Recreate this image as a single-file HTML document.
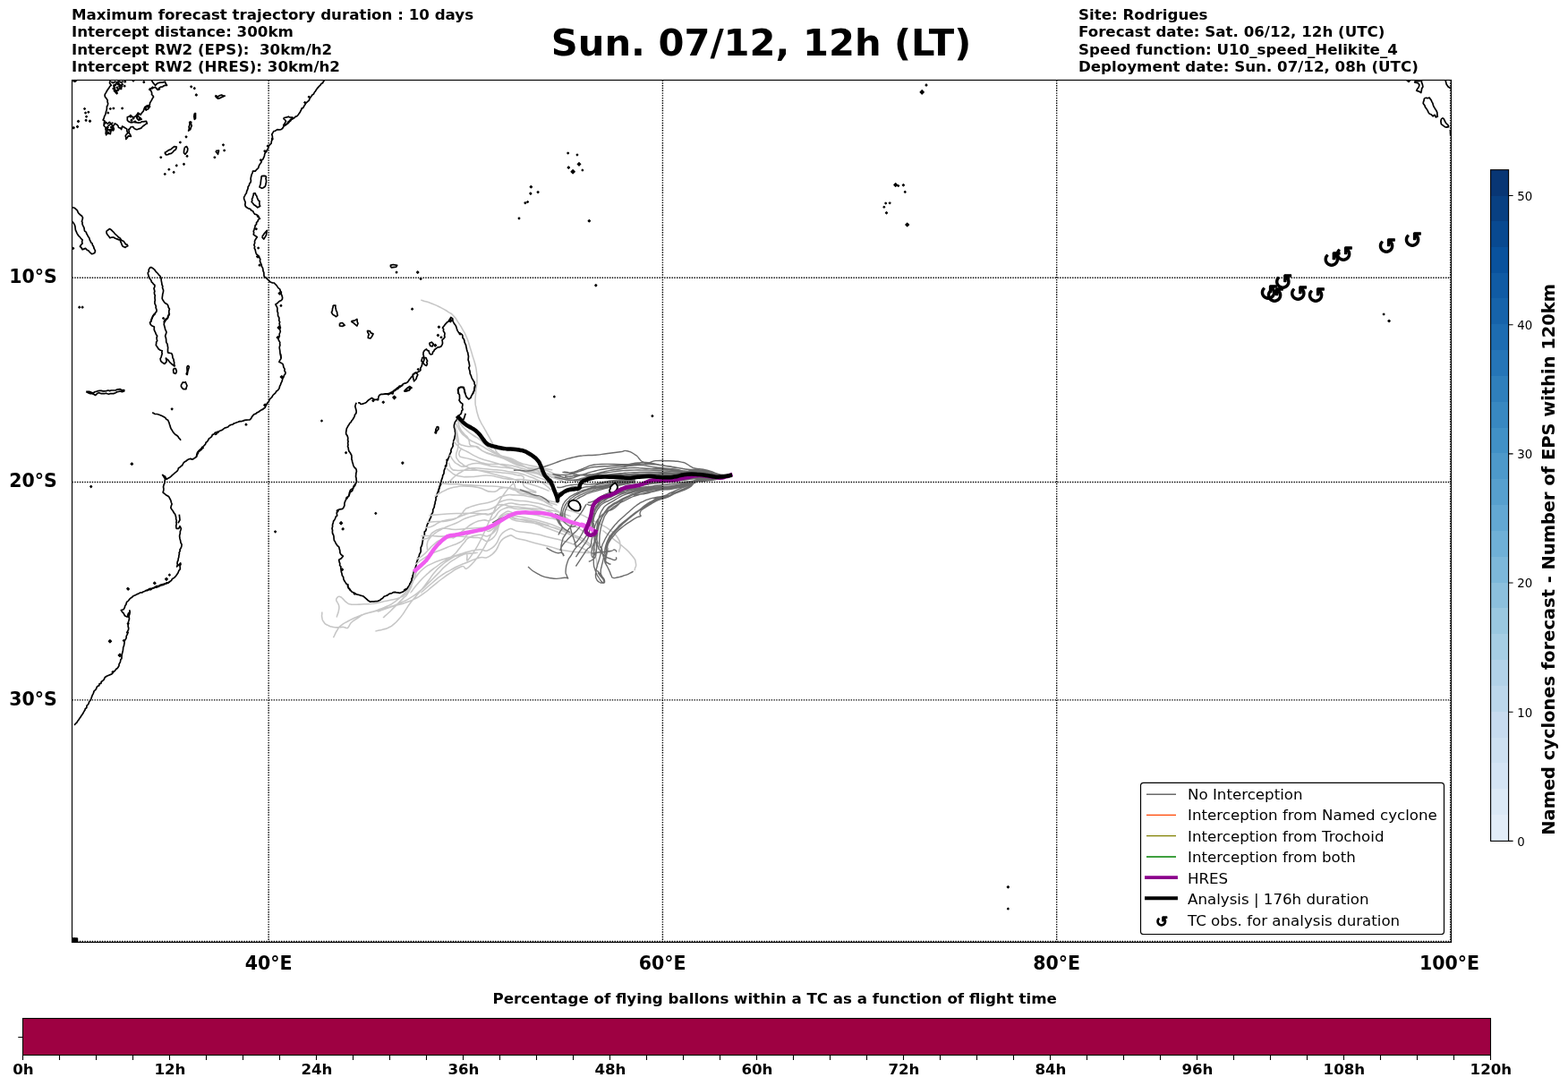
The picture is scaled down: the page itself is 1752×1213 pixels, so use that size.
<!DOCTYPE html>
<html lang="en"><head><meta charset="utf-8"><title>Sun. 07/12, 12h (LT)</title>
<style>html,body{margin:0;padding:0;background:#fff;}body{width:1752px;height:1213px;overflow:hidden;}svg{display:block;font-family:"DejaVu Sans","Liberation Sans",sans-serif;}.b{font-weight:bold;}.h{font-size:16.667px;font-weight:bold;white-space:pre;}.lg{font-size:16.667px;}.ll{font-size:20.5px;font-weight:bold;}.ct{font-size:13.4px;}.grid{stroke:#000;stroke-width:1.39;stroke-dasharray:1.39 1.39;fill:none;}.coast{stroke:#000;stroke-width:1.7;fill:none;stroke-linejoin:round;stroke-linecap:butt;}.lgt{stroke:#c6c6c6;stroke-width:1.55;fill:none;stroke-linejoin:round;}.tcm{fill:#000;stroke:#000;stroke-width:1.39;stroke-linejoin:round;}.tc{font-weight:bold;fill:#000;stroke:#000;stroke-width:1.2;stroke-linejoin:round;}.drk{stroke:#6c6c6c;stroke-width:1.39;fill:none;stroke-linejoin:round;}</style></head><body>
<svg width="1752" height="1213" viewBox="0 0 1752 1213">
<rect x="0" y="0" width="1752" height="1213" fill="#fff"/>
<text class="h" x="80" y="22.00" xml:space="preserve">Maximum forecast trajectory duration : 10 days</text>
<text class="h" x="80" y="41.40" xml:space="preserve">Intercept distance: 300km</text>
<text class="h" x="80" y="60.80" xml:space="preserve">Intercept RW2 (EPS):  30km/h2</text>
<text class="h" x="80" y="80.20" xml:space="preserve">Intercept RW2 (HRES): 30km/h2</text>
<text class="h" x="1205" y="22.00" xml:space="preserve">Site: Rodrigues</text>
<text class="h" x="1205" y="41.40" xml:space="preserve">Forecast date: Sat. 06/12, 12h (UTC)</text>
<text class="h" x="1205" y="60.80" xml:space="preserve">Speed function: U10_speed_Helikite_4</text>
<text class="h" x="1205" y="80.20" xml:space="preserve">Deployment date: Sun. 07/12, 08h (UTC)</text>
<text class="b" x="850.5" y="62.3" font-size="41.667" text-anchor="middle">Sun. 07/12, 12h (LT)</text>
<g id="map">
<clipPath id="mc"><rect x="80.5" y="89.5" width="1541.0" height="963.0"/></clipPath>
<g clip-path="url(#mc)">
<path class="coast" d="M123.3 89.6L122.5 92.7L124.3 95.3L122.8 96.4L121.7 98.4L120.6 99.7L119.2 102.0L118.5 103.4L117.3 105.2L117.1 106.8L117.4 108.1L118.7 109.7L120.2 111.9L120.0 113.4L120.7 115.8L120.2 117.9L119.4 118.9L119.4 121.0L119.1 123.2L118.6 124.3L118.2 126.1L117.9 127.7L116.6 130.2L116.2 131.9L115.1 134.1L117.1 135.3L116.4 136.6L116.2 139.1L116.1 140.5L118.2 142.5L117.9 144.3L118.5 145.7L118.5 147.0L118.1 148.8L118.7 150.8L119.9 149.1L120.7 147.7L121.8 148.8L123.3 149.7L123.7 147.5L124.3 145.6L126.2 145.1L127.4 144.1L126.6 142.4L126.4 140.5L127.4 139.6L128.4 137.9L131.0 139.5L132.0 140.8L132.5 142.5L134.6 143.1L135.6 144.6L136.0 143.1L136.6 141.0L139.2 142.5L141.8 144.1L141.9 146.4L142.8 148.7L141.0 150.4L140.2 151.8L140.8 153.7L140.8 155.4L142.5 153.4L143.3 151.8L146.4 152.3L145.6 150.6L144.3 148.7L144.2 146.6L143.8 144.6L145.2 143.8L145.9 142.0L148.5 141.5L150.0 143.6L151.5 144.3L153.1 144.6L154.1 144.3L156.2 143.6L157.7 143.1L159.3 141.3L160.3 140.5L161.5 139.8L162.5 138.7L164.4 137.9L163.4 135.3L160.3 135.9L158.4 135.9L157.2 136.9L154.7 137.2L153.1 136.9L150.6 136.3L149.0 136.4L146.8 136.8L144.9 136.4L143.1 135.3L142.3 134.3L142.3 132.9L142.3 130.7L144.4 130.1L145.9 128.7L147.2 129.9L149.0 131.2L150.4 130.6L152.1 129.2L153.6 127.3L154.1 126.1L155.3 126.8L157.2 128.2L157.9 126.8L159.3 125.1L160.3 124.0L160.8 121.9L162.3 119.9L164.2 119.0L166.4 117.9L167.5 116.5L167.5 114.8L168.5 113.4L169.5 111.7L170.7 109.4L171.6 108.1L171.0 107.1L169.5 105.5L169.7 104.1L169.0 102.0L167.5 99.4L168.9 98.8L170.5 98.4L171.7 98.0L173.6 97.3L174.4 98.4L176.2 100.4L177.7 98.4L179.5 97.2L181.8 96.8L183.2 95.8L184.4 95.4L186.5 95.3L185.0 93.1L184.4 91.2L181.6 92.1L179.8 92.2L177.9 92.3L175.7 93.2L173.6 95.3L171.6 93.2L170.3 91.3L169.5 89.6"/>
<path class="coast" d="M126.4 95.3L127.2 96.4L128.4 98.4L128.3 100.4L127.4 101.4L128.9 103.0L130.5 104.5L130.5 102.0L131.5 100.4L132.9 99.1L134.6 98.4L136.6 96.3L135.5 95.2L133.6 94.8L131.5 94.5L130.5 93.2L128.4 94.8L126.4 95.3"/>
<path class="coast" d="M119.2 142.5L121.2 140.5L122.8 139.1L124.3 138.4L125.4 140.0L126.4 142.5L124.9 144.1L123.3 144.6L120.2 145.1L119.2 142.5"/>
<path class="coast" d="M161.3 119.9L164.4 117.9L167.5 118.9L165.4 122.0L162.3 122.5L161.3 119.9"/>
<path class="coast" d="M153.1 129.2L156.2 131.2L158.2 133.3L155.1 134.3L153.1 132.3L153.1 129.2"/>
<path class="coast" d="M183.9 170.3L185.8 169.7L187.0 168.7L188.8 167.6L191.1 166.7L192.5 165.4L194.7 163.6L197.3 164.1L196.8 166.0L196.2 167.2L194.5 168.2L193.2 169.8L191.4 171.3L189.0 171.8L187.6 172.7L185.4 172.8L183.9 170.3"/>
<path class="coast" d="M206.5 164.6L208.6 163.6L209.8 166.2L209.5 168.5L208.6 170.3L207.0 172.3L205.5 170.8L205.5 168.8L206.0 166.2L206.5 164.6"/>
<path class="coast" d="M211.6 135.9L213.7 136.4L213.4 138.2L214.2 140.5L213.2 142.7L212.7 144.6L210.6 146.1L211.4 143.8L211.1 141.5L211.8 140.2L212.0 137.6L211.6 135.9"/>
<path class="coast" d="M217.3 126.6L218.5 126.6L218.5 132.3L217.3 133.3L216.8 130.2L217.3 126.6"/>
<path class="coast" d="M240.4 106.6L241.6 107.0L243.5 108.1L245.2 106.8L247.6 106.1L249.5 107.0L251.2 107.1L249.8 107.8L247.6 108.6L245.7 109.7L243.5 110.2L241.5 108.5L240.4 106.6"/>
<path class="coast" d="M240.9 168.7L244.5 168.2L243.5 172.3L242.0 170.3L240.9 168.7"/>
<path class="coast" d="M81.2 90.1L83.7 91.2L85.8 89.6"/>
<path class="coast" d="M80.5 231.5L83.2 232.2L84.8 233.6L85.8 234.5L86.6 235.6L87.2 237.3L88.3 238.7L89.4 239.7L91.5 241.3L92.5 243.2L91.9 245.7L91.4 247.3L92.1 248.5L91.9 250.1L92.8 252.1L93.9 254.4L94.2 256.2L94.6 258.1L96.4 259.4L96.6 260.8L97.6 262.3L98.1 263.5L99.8 265.9L100.2 267.9L101.0 269.2L101.8 271.1L103.1 271.9L103.3 273.6L104.5 275.3L104.9 277.0L105.6 278.4L106.5 280.1L105.8 282.5L103.7 283.5L102.4 283.6L101.1 282.4L100.2 281.7L99.0 280.1L97.2 279.2L95.5 277.4L93.8 278.1L92.1 278.8L90.8 276.5L89.4 275.3L90.7 273.3L92.1 271.9L91.6 270.2L92.1 267.8L90.4 266.4L89.6 265.1L88.0 263.7L86.9 262.1L86.2 260.8L85.3 258.9L84.4 256.9L84.1 254.5L83.9 252.7L83.2 250.7L81.8 248.6L80.5 247.3"/>
<path class="coast" d="M118.8 258.2L120.6 257.1L122.3 255.5L124.4 256.8L125.7 258.2L127.2 259.6L128.4 261.2L129.8 262.3L131.1 263.5L132.5 265.1L133.9 265.8L135.2 267.5L136.0 268.5L138.2 269.6L139.4 271.2L140.6 272.9L142.0 273.1L142.8 274.7L141.0 275.5L140.1 276.4L137.3 275.3L136.0 273.0L135.5 271.2L134.6 269.7L134.6 267.8L133.2 267.9L131.2 267.1L128.7 266.3L127.1 265.1L125.2 265.0L122.9 265.8L122.0 264.6L120.2 262.3L119.2 260.8L118.8 258.2"/>
<path class="coast" d="M168.2 298.4L167.0 299.8L166.1 301.4L166.4 303.3L165.3 304.5L165.4 306.2L166.0 307.6L166.2 309.2L167.1 311.0L168.5 312.5L169.5 315.1L170.7 316.1L171.3 317.2L172.9 318.5L172.9 320.1L172.0 322.2L172.3 323.3L172.9 325.5L172.4 326.5L172.6 328.7L173.4 330.1L173.0 331.4L173.1 334.0L173.4 335.0L172.9 337.0L173.0 339.3L173.9 340.9L174.3 342.5L174.1 343.7L175.0 345.9L175.0 347.7L173.5 349.6L173.1 350.9L171.5 352.4L170.9 353.4L169.7 355.5L169.5 356.5L168.9 358.8L168.2 360.0"/>
<path class="coast" d="M168.2 298.4L169.6 298.9L171.6 300.3L172.8 301.3L173.5 302.5L174.7 303.9L176.4 305.5L177.3 306.9L178.9 308.4L179.8 310.3L180.1 312.0L180.3 313.9L180.8 316.4L180.9 317.6L181.8 319.9L181.5 321.5L182.3 323.3L182.6 324.6L182.3 326.6L181.7 328.8L181.6 330.1L181.3 331.9L181.2 333.6L182.4 335.8L183.2 337.0L184.4 338.5L186.2 339.4L187.3 340.4L187.9 341.8L188.2 343.2L189.4 345.2L188.8 347.3L188.8 348.5L189.0 350.7L187.7 352.9L187.8 354.5L186.6 356.2L185.0 357.8L183.9 360.0"/>
<path class="coast" d="M172.9 350.0L171.8 351.6L170.7 353.1L170.2 354.8L169.0 357.1L168.9 358.5L167.5 360.3L168.2 362.5L169.5 363.7L172.3 365.1L172.3 366.5L172.2 368.1L172.9 369.9L173.8 371.7L174.4 373.5L175.7 375.3L175.1 376.9L175.2 378.9L175.7 380.8L174.7 381.9L174.6 383.7L174.3 385.6L175.3 387.0L176.4 388.5L177.1 389.7L179.3 391.2L181.2 391.8L180.8 393.4L181.2 395.0L180.5 397.3L180.0 399.1L179.1 400.7L179.6 403.1L181.2 404.8L183.9 406.4L186.0 404.1L186.0 402.2L185.3 400.0L186.9 401.4L188.0 402.1L188.8 403.5L190.3 405.2L191.4 406.2L193.1 407.5L194.3 408.6L195.5 409.2"/>
<path class="coast" d="M189.4 350.0L188.9 352.0L187.7 353.1L187.3 355.5L185.2 356.4L183.9 357.5L183.2 359.5L183.5 360.9L183.2 362.3L183.8 364.4L184.1 365.4L184.6 367.8L185.6 369.8L186.0 371.2L185.3 373.3L184.6 375.3L185.1 376.7L185.6 378.7L185.7 380.8L185.8 382.4L187.0 384.2L187.3 386.3L187.7 388.7L187.5 389.9L187.5 392.2L187.6 393.8L189.8 394.3L191.4 394.5L192.3 395.8L192.8 397.9L192.9 399.5L194.0 401.4L194.2 403.4L194.7 404.8L194.6 407.0L195.5 409.2"/>
<path class="coast" d="M194.2 411.6L196.2 411.6L197.3 414.4L197.0 416.1L196.2 417.4L193.9 416.4L193.6 413.3L194.2 411.6"/>
<path class="coast" d="M209.9 408.2L211.3 409.6L211.0 411.0L210.4 412.7L209.9 414.4L209.6 416.0L209.2 418.5L208.2 417.8L208.9 415.7L209.2 414.6L209.0 412.3L208.9 410.2L209.9 408.2"/>
<path class="coast" d="M203.8 426.7L205.8 427.2L207.2 426.7L208.0 428.5L209.0 430.8L208.1 433.2L207.9 434.7L204.9 434.7L203.3 433.2L202.4 431.5L202.5 429.9L203.8 427.9L203.8 426.7"/>
<path class="coast" d="M96.2 437.4L98.3 437.4L99.7 437.4L101.7 438.1L102.6 438.7L104.5 438.8L106.3 437.5L107.6 437.3L109.9 436.6L111.7 436.4L113.1 436.4L115.1 436.9L116.5 436.9L118.8 436.6L120.9 436.0L122.6 436.6L124.2 436.0L125.3 436.0L127.1 436.0L129.4 435.8L130.6 435.2L132.5 434.9L134.3 434.7L136.2 435.8L138.7 435.6L138.7 437.0L136.4 437.6L134.3 437.0L132.5 437.4L130.8 437.7L129.1 438.8L126.9 439.6L125.4 439.7L122.9 439.7L121.4 440.2L120.1 439.8L118.3 439.2L116.6 439.7L114.7 439.7L113.2 439.7L110.8 438.8L109.2 439.0L108.3 439.9L106.5 441.5L104.8 440.4L103.1 439.7L100.8 439.6L99.0 439.0L96.2 437.4"/>
<path class="coast" d="M170.2 460.7L172.9 462.3L175.5 462.5L177.2 463.0L179.1 463.7L181.0 464.5L182.4 465.2L184.6 466.4L185.8 468.3L187.6 469.2L188.2 470.5L189.2 472.9L189.4 474.0L190.0 475.4L190.4 477.2L191.4 479.5L192.2 480.4L193.0 481.9L194.2 483.6L196.0 485.4L197.6 486.3L199.0 487.6L199.8 489.1L200.9 490.2L202.1 491.8"/>
<path class="coast" d="M227.7 500.0L225.7 501.0L225.2 502.0L223.1 503.7L221.6 504.8L221.3 506.3L220.0 508.2L219.5 510.3L217.7 511.4L216.1 512.6L214.8 513.1L212.9 512.4L210.6 513.0L208.7 514.2L208.3 514.8L206.5 515.8L205.5 516.4L204.2 518.7L203.6 519.8L202.6 520.4L201.0 521.9L199.5 522.8L198.9 524.6L198.2 525.9L196.8 527.1L195.5 528.1L194.1 529.3L192.3 530.8L191.1 532.1L190.1 532.9L188.3 533.9L186.2 535.3L185.0 533.5L184.6 532.2L183.2 531.5L181.6 530.4L182.2 531.4L183.6 533.5L184.6 534.9L184.2 536.2L184.2 537.6L183.9 539.7L183.0 541.7L182.5 543.8L182.9 546.0L182.7 547.9L182.1 550.0L183.4 551.1L185.3 552.7L187.5 554.0L188.7 554.8L189.5 556.3L190.8 558.9L191.4 561.2L192.1 563.0L191.4 564.8L190.8 567.1L191.9 569.0L192.3 569.4L193.5 571.2L194.2 572.7L195.5 574.1L196.2 576.0L196.7 578.2L196.6 579.5L197.3 581.5L196.9 583.6L197.3 585.0L196.7 587.3L196.9 589.2L197.2 590.4L199.7 590.4L201.0 587.7L202.4 590.4L202.0 591.8L201.3 593.7L201.3 596.0L200.8 597.3L200.6 598.9L200.9 601.2L201.1 601.9L201.7 604.1L201.9 606.0L203.1 608.2L202.8 610.5L202.0 612.4L201.0 613.7L201.2 615.2L200.1 617.6L200.5 618.3L199.9 620.5L199.8 622.2L199.2 624.0L199.0 626.0L198.3 627.2L198.0 629.3L198.4 630.8L197.6 632.9L199.5 631.2L200.2 630.5L201.7 628.8L202.0 630.4L201.0 632.2L201.3 634.4L201.3 635.6L199.8 637.5L199.0 639.7L198.3 640.8L196.6 643.3L195.5 644.5L194.5 645.4L192.3 646.8L191.4 648.6L190.2 649.2L188.3 650.8L186.1 650.9L184.6 652.1L183.4 652.9L181.0 653.7L179.5 653.9L177.5 655.1L176.4 655.5L175.1 656.1L173.4 656.0L170.9 657.0L169.5 657.5L168.5 658.6L166.3 658.5L164.8 659.4L163.4 660.0"/>
<path class="coast" d="M200.3 574.7L201.0 580.8L199.0 584.2"/>
<path class="coast" d="M190.1 650.0L188.9 650.2L187.1 651.4L185.5 651.9L183.6 652.0L181.8 652.7L180.1 653.1L179.0 653.4L176.8 654.7L175.3 654.5L173.5 655.5L172.3 656.6L170.9 656.6L169.7 657.7L167.5 657.4L165.7 658.5L164.9 659.0L162.8 659.6L161.6 660.5L159.9 661.0L158.6 662.0L156.8 661.9L155.4 662.8L153.4 663.6L151.7 664.4L150.6 664.9L148.7 665.8L147.2 667.4L146.2 667.8L144.9 669.0L143.4 671.1L142.1 671.9L141.3 673.2L140.8 675.3L139.7 676.7L139.4 678.3L138.0 680.8L135.3 681.5L136.6 683.6L138.0 684.9L139.4 687.7L141.5 688.8L142.8 689.0L142.8 687.0L143.4 685.1L144.9 683.7L144.9 681.8L145.2 683.6L144.9 685.7L144.1 688.0L144.2 689.7L144.5 691.0L143.9 693.3L143.4 694.7L143.5 696.6L143.1 698.0L143.2 700.1L143.7 701.4L143.5 703.4L142.5 705.1L142.8 706.7L142.1 708.9L141.2 710.4L141.1 712.6L140.1 714.4L139.1 715.8L139.0 718.1L138.7 719.9L138.5 721.1L137.6 723.5L137.6 724.8L137.3 726.7L136.8 728.9L136.4 730.2L136.1 731.8L136.0 733.6L135.9 735.7L134.9 736.4L134.6 738.4L134.3 739.6L133.0 741.9L133.0 743.3L132.5 744.5L131.1 746.5L129.8 747.3L128.4 749.3L126.3 750.7L125.4 752.5L123.6 753.4L121.6 754.2L120.3 754.8L118.8 755.5L117.1 756.8L116.1 759.1L114.7 760.3L113.2 761.5L112.9 763.3L111.1 763.6L110.8 765.7L109.2 766.4L108.2 767.3L107.7 769.1L106.6 770.7L105.1 771.9L104.8 773.1L104.1 774.8L103.1 776.7L102.3 779.1L101.7 780.8L101.2 782.0L99.7 783.8L99.2 785.3L98.3 787.0L97.0 788.2L96.8 790.5L95.2 791.7L94.9 793.2L94.2 794.1L93.3 795.7L92.1 797.7L91.2 799.0L90.1 800.7L89.0 802.3L87.9 803.9L86.9 805.2L86.0 806.8L84.1 808.6L83.2 810.0"/>
<path class="coast" d="M362.6 89.8L361.4 90.9L360.5 92.8L359.0 93.6L357.8 95.3L356.7 96.2L355.2 97.9L354.1 99.3L353.4 100.2L352.3 102.1L351.4 103.0L350.4 105.2L349.1 105.7L347.9 107.5L346.8 109.0L346.2 109.9L345.1 112.3L343.8 113.4L342.1 115.0L341.4 115.8L340.4 117.7L339.9 118.2L338.8 120.4L337.1 121.1L336.6 122.7L336.0 123.7L335.3 125.2L334.4 126.4L333.2 128.2L331.8 129.8L330.1 130.2L329.0 131.6L327.7 132.4L325.8 133.3L324.6 135.1L323.6 135.7L322.2 137.5L320.0 138.7L318.8 139.8L317.1 141.0L316.5 142.0L315.6 143.5L314.0 144.6L312.0 145.0L309.9 144.6L307.4 146.2L305.8 146.6L304.9 148.2L303.7 150.1L304.2 151.4L304.5 153.3L304.1 154.9L303.6 157.0L303.3 158.2L303.0 160.3L301.9 161.2L300.3 163.1L299.9 164.4L299.1 166.8L298.2 167.9L297.6 169.6L296.6 170.4L295.7 172.1L295.5 174.0L294.8 175.7L293.8 177.9L292.5 178.9L292.1 180.9L291.4 182.1L289.8 184.2L289.1 185.9L288.6 187.7L287.2 189.0L286.4 189.7L285.2 191.2L282.5 191.2L282.1 193.0L281.0 195.3L280.8 196.6L280.4 197.9L280.1 200.0L280.4 201.4L280.1 203.6L278.9 204.8L278.4 206.9L277.1 208.8L277.1 210.2L276.5 212.0L275.6 213.8L275.4 215.6L274.0 217.4L273.6 218.6L272.6 220.3L272.6 222.0L273.3 223.8L274.2 226.1L273.8 228.5L274.2 230.2L275.4 231.6L277.7 232.9L279.8 233.5L280.5 234.9L282.5 235.7L283.5 237.6L284.5 239.1L286.9 239.8L288.6 241.2L289.4 242.9L290.7 245.0"/>
<path class="coast" d="M316.7 131.6L318.0 131.5L320.7 130.9L322.2 130.2L323.5 131.0L326.1 131.1L327.7 131.6L326.6 132.7L324.6 133.4L323.6 135.0L322.1 135.9L321.1 138.0L320.1 139.1L318.6 139.8L316.7 139.8L317.9 138.2L318.6 137.0L319.5 135.7L318.9 134.3L317.4 133.1L316.7 131.6"/>
<path class="coast" d="M292.1 196.6L295.0 196.3L296.8 196.6L297.5 197.7L297.0 199.5L297.5 201.4L297.5 203.6L297.1 204.7L296.9 206.4L296.2 208.3L294.2 209.8L292.7 210.3L290.0 209.0L290.6 207.1L291.1 205.4L291.4 202.8L291.6 201.1L292.0 199.1L292.1 196.6"/>
<path class="coast" d="M283.2 215.8L285.2 215.8L285.8 217.7L286.7 218.8L287.3 220.6L287.9 222.1L288.6 223.8L290.0 224.7L289.8 226.0L290.0 228.9L290.7 230.2L287.9 231.8L286.4 230.5L284.7 229.3L283.8 228.8L282.7 227.3L281.1 225.4L281.8 224.1L281.5 222.3L282.5 220.6L282.5 219.4L283.3 217.9L283.2 215.8"/>
<path class="coast" d="M287.3 240.0L287.7 241.8L289.5 243.2L290.0 244.1L288.5 245.5L287.9 247.5L286.6 248.4L286.5 250.6L285.2 251.6L284.9 253.8L284.4 255.1L283.8 257.1L283.2 258.3L283.7 260.0L283.2 261.9L284.3 262.7L285.4 263.5L287.3 264.7L286.1 266.5L285.3 267.7L284.5 269.5L284.7 271.5L283.8 273.6L284.7 275.5L284.2 277.1L285.2 279.0L285.6 280.9L286.0 282.5L286.6 283.8L287.8 284.9L289.3 286.1L290.0 287.9L290.8 289.6L290.4 291.7L291.4 294.1L292.3 296.2L292.2 297.3L293.4 298.9L293.9 301.1L294.0 302.6L294.8 304.4L294.9 306.3L295.0 308.1L295.5 309.2L297.0 310.2L298.9 311.9L300.5 313.3L301.6 314.7L302.8 315.3L304.4 315.9L306.4 316.0L307.8 317.7L308.9 318.6L309.9 320.1L310.9 321.6L312.6 322.9L313.3 324.9L314.3 326.2L314.2 328.3L315.1 330.4L315.6 332.5L315.3 334.5L313.8 335.9L312.3 336.3L311.2 337.3L309.6 338.9L307.8 340.0L309.1 342.2L309.9 344.1L309.9 345.6L309.8 347.9L310.6 349.5L310.5 351.0L310.6 352.7L311.8 354.7L311.9 356.4L311.7 358.1L312.7 359.6L312.1 361.4L312.6 363.3L313.0 365.4L312.6 366.3L312.8 368.2L313.3 370.1L312.8 371.5L312.1 373.2L312.3 375.5L311.2 377.0L311.1 379.2L311.5 380.3L312.8 382.4L312.6 383.8L312.9 385.5L312.3 387.4L312.2 388.6L312.6 390.7L312.8 392.0L313.0 394.7L313.6 396.3L313.8 398.1L314.0 400.0"/>
<path class="coast" d="M292.7 264.7L295.5 260.5L298.2 257.5L297.5 262.6L294.8 267.1L292.7 264.7"/>
<path class="coast" d="M372.2 341.1L374.9 341.1L374.8 343.1L375.3 345.2L375.6 346.8L376.6 348.6L376.8 350.8L377.3 352.3L375.6 353.7L373.8 352.4L372.2 351.6L371.5 350.7L370.4 348.9L371.3 347.1L371.5 344.8L372.2 343.1L372.2 341.1"/>
<path class="coast" d="M379.5 361.2L382.5 360.5L385.2 363.3L382.5 364.4L379.5 364.0L379.5 361.2"/>
<path class="coast" d="M392.3 358.9L394.4 358.4L396.2 358.1L398.9 356.4L399.1 358.2L399.2 359.5L400.0 361.2L398.9 364.0L397.8 363.2L396.2 361.9L395.0 360.6L393.5 359.9L392.3 358.9"/>
<path class="coast" d="M435.9 296.4L439.3 295.5L443.7 296.4L442.7 298.2L437.3 298.9L435.9 296.4"/>
<path class="coast" d="M313.3 395.0L313.6 396.7L313.9 399.1L314.0 400.5L312.6 402.6L311.9 404.3L314.3 405.4L316.0 406.6L316.7 409.0L316.9 410.3L318.1 412.1L317.9 414.3L319.0 415.8L318.8 417.6L317.4 419.3L317.0 421.0L316.0 422.4L315.4 424.4L315.0 426.1L314.0 427.9L313.4 429.9L312.6 431.2L312.3 432.8L311.9 434.0L310.1 436.2L309.0 436.7L307.8 438.8L306.4 440.1L304.9 441.5L304.1 443.2L303.0 444.3L301.8 445.4L300.7 447.3L300.4 448.5L298.9 449.8L297.7 452.0L297.0 453.1L296.2 455.3L294.4 456.4L293.8 457.1L292.0 457.9L290.7 458.7L288.7 460.2L287.1 460.9L285.9 462.1L283.8 462.8L282.6 464.1L281.5 465.5L280.6 467.3L279.0 469.0L277.5 469.0L275.1 469.2L273.3 469.4L271.5 470.1L269.2 470.7L267.8 470.6L266.2 471.3L264.7 471.7L262.9 472.5L261.4 472.9L260.0 474.2L257.8 474.5L255.7 475.8L255.0 476.7L252.5 477.7L251.4 477.8L249.6 479.2L247.7 480.6L247.0 480.7L245.0 481.5L243.8 483.1L242.6 483.3L241.8 484.9L240.0 485.4"/>
<path class="coast" d="M398.2 449.8L397.2 452.3L396.8 453.9L397.4 456.0L397.9 458.0L398.2 459.4L397.9 461.6L396.5 463.2L396.2 464.9L395.2 466.8L394.0 468.7L393.1 469.7L392.1 471.7L390.8 472.7L390.1 474.0L389.1 475.4L388.2 477.2L387.3 478.6L387.0 481.0L386.6 482.7L386.7 484.9L387.9 486.4L388.6 488.2L388.8 490.2L388.5 491.5L389.1 492.8L388.6 495.0L389.0 496.9L388.5 498.5L389.3 500.6L389.3 501.8L390.0 504.2L391.2 505.5L392.1 507.3L392.8 508.5L393.0 510.9L392.9 512.9L393.4 514.2L393.7 516.0L394.4 518.1L394.8 519.7L395.3 521.0L396.4 522.5L397.7 523.5L398.2 525.1L398.4 526.7L397.9 528.3L397.7 530.8L397.5 532.0L398.1 534.4L398.1 535.9L398.6 538.2L397.5 539.8L396.9 541.5L395.2 543.0L394.8 544.3L394.2 545.7L392.2 546.8L391.2 548.1L390.7 549.8L390.6 551.6L389.8 553.6L389.0 555.0"/>
<path class="coast" d="M429.8 440.0L432.3 440.0L433.9 439.7L435.7 439.0L437.5 438.1L439.0 437.1L440.8 435.7L442.3 434.8L444.0 433.2L445.2 432.5L446.4 431.0L448.6 430.9L450.0 429.3L451.4 428.4L453.8 427.9L455.5 426.8L456.6 425.2L457.3 424.0L458.6 422.7L459.4 421.3L460.8 420.5L461.6 418.6L462.5 417.8L463.9 416.5L465.8 416.1L467.5 415.3L469.0 414.3L469.9 413.5L469.8 411.3L470.9 409.4L471.5 407.8L471.9 405.3L473.5 403.2L474.0 401.2L473.5 399.0L473.4 397.4L472.9 396.0L473.1 393.4L474.0 391.9L474.7 391.1L476.5 389.9L477.4 391.4L479.1 391.9L479.7 394.4L481.2 396.0L483.2 395.5L483.5 393.4L484.8 392.1L485.3 390.9L486.9 389.5L487.5 389.1L489.4 387.8L491.4 387.7L493.0 386.8L494.0 384.8L494.5 383.7L494.4 381.9L494.0 379.6L495.5 378.5L497.1 376.5L496.6 375.3L497.0 372.5L496.6 371.4L495.4 369.8L495.6 367.5L494.5 366.2L495.3 365.1L496.2 363.9L497.6 362.1L499.4 360.1L501.2 359.0L501.9 357.6L502.8 356.2L503.8 354.4L505.8 356.0L505.9 358.3L506.8 360.1L507.7 361.8L508.9 363.2L509.8 365.1L510.4 367.3L511.3 369.6L512.5 371.4L514.8 372.7L516.1 373.4L516.9 374.9L517.0 377.4L518.2 378.6L518.9 380.6L519.0 382.1L519.7 383.7L520.7 385.8L520.8 386.9L521.2 388.8L521.7 391.0L522.1 392.5L522.8 394.0L523.1 396.5L523.5 397.8L523.3 400.1L523.1 401.9L523.9 404.3L524.3 406.3L524.7 408.8L523.8 410.8L524.3 412.5L525.0 414.6L525.1 415.6L525.3 417.6L526.4 419.7L526.9 421.5L527.4 422.7L528.1 423.7L529.2 425.8L530.0 426.8L530.1 428.9L531.0 430.4L531.0 432.5L530.0 435.1L529.6 436.9L528.9 438.0L528.4 440.0"/>
<path class="coast" d="M512.0 440.0L511.8 435.1L514.0 432.5L517.6 432.5L519.2 436.1L519.7 440.0"/>
<path class="coast" d="M460.6 418.6L462.1 417.6L464.2 416.1L465.8 417.3L466.8 418.6L465.6 421.0L465.2 422.7L464.3 424.0L462.7 425.8L462.2 424.2L461.6 421.7L461.6 420.2L460.6 418.6"/>
<path class="coast" d="M452.4 436.1L455.5 433.0L459.1 433.5L456.5 436.1L452.4 436.1"/>
<path class="coast" d="M410.3 369.3L413.4 369.8L414.4 371.9L417.0 372.9L416.2 374.6L415.4 376.0L413.9 378.0L411.3 377.5L411.5 375.1L412.3 373.4L411.0 371.6L410.3 369.3"/>
<path class="coast" d="M479.6 383.2L482.2 382.2L484.2 384.2L483.2 386.8L480.7 386.3L479.6 383.2"/>
<path class="coast" d="M471.9 399.1L473.8 399.4L476.0 399.6L476.7 401.4L477.6 403.2L476.8 404.4L477.4 406.5L476.5 408.4L474.6 407.5L473.5 406.3L472.5 404.4L470.9 403.2L471.5 401.0L471.9 399.1"/>
<path class="coast" d="M400.0 450.0L401.7 449.8L402.9 451.3L405.1 451.1L407.6 450.3L409.2 449.5L410.9 447.7L412.3 446.4L414.2 445.3L415.4 444.4L417.4 445.7L418.5 446.4L420.9 446.4L422.6 445.4L423.1 442.8L424.1 441.3L425.6 440.4L427.7 440.3L430.8 439.8L431.9 439.8L433.9 440.8L436.5 439.2L439.0 439.8L439.6 437.2L441.4 436.3L443.2 434.6L444.5 434.3L446.3 432.4L447.3 432.1L448.9 430.9L450.3 430.0"/>
<path class="coast" d="M531.0 430.0L530.2 432.2L530.0 433.5L530.0 435.1L529.4 437.4L528.8 438.4L527.9 440.3L526.8 442.0L525.9 444.4L523.8 445.9L523.0 445.2L521.2 443.4L520.2 440.8L519.7 439.2L518.9 437.0L518.7 435.1L518.2 432.6L515.1 432.3L512.5 433.1L511.5 435.7L512.4 438.2L512.5 439.8L513.4 441.1L513.5 443.4L513.6 445.4L513.0 447.0L514.6 449.5L516.9 451.1L516.8 453.4L516.3 454.7L517.1 457.7L515.9 458.9L515.6 460.8L514.8 462.6L513.5 463.4L512.7 464.5L511.5 466.0L510.8 468.0L509.9 469.6L508.5 471.2L507.9 473.2L507.4 474.8L507.4 477.3L507.9 478.4L508.4 480.3L508.4 481.7L508.9 483.9L508.6 485.7L507.9 488.6L507.8 489.9L506.7 492.5L506.8 493.7L506.0 496.2L506.2 498.2L505.3 499.9L504.4 501.3L503.8 503.4L504.1 504.6L503.3 506.0L502.5 507.6L502.2 509.4L501.2 511.2L500.7 512.7L499.5 514.4L499.1 516.8L498.9 518.8L497.7 521.0L497.6 522.5L496.8 524.1L496.2 525.6L496.1 527.6L495.9 529.1L494.7 531.0L494.5 532.7L493.8 534.9L493.1 536.7L493.0 537.9L492.0 540.0L492.1 541.0L491.4 543.0L491.0 544.5L490.4 546.2L490.1 548.8L489.9 550.0"/>
<path class="coast" d="M520.2 461.8L519.2 464.9L518.2 468.0L517.1 469.0"/>
<path class="coast" d="M488.4 476.2L489.9 477.3L489.9 479.3L488.9 480.3L487.7 481.9L487.3 483.9L486.1 483.4L486.9 481.1L486.8 479.8L487.8 477.8L488.4 476.2"/>
<path class="coast" d="M451.4 437.2L453.4 435.1L454.5 434.1L456.3 432.7L457.5 431.5L460.1 433.1L458.4 433.8L457.5 435.7L455.8 436.5L453.4 437.2L451.4 437.2"/>
<path class="coast" d="M397.7 540.0L396.5 541.3L396.5 542.4L395.2 544.1L394.5 545.8L393.6 548.2L391.7 549.5L390.5 550.3L390.3 552.0L389.5 554.4L387.8 555.2L387.0 557.0L386.3 558.7L385.4 560.5L384.9 562.3L384.9 564.7L384.0 566.7L382.8 568.3L379.8 568.8L377.2 569.8L377.0 571.4L376.2 572.9L376.7 576.0L375.3 577.0L374.6 579.0L373.9 580.5L372.6 582.1L372.3 583.7L371.5 586.2L371.6 588.1L371.0 590.3L371.6 592.5L371.4 593.2L371.5 595.5L372.5 597.5L373.0 599.3L373.1 601.6L373.4 603.7L374.3 604.7L375.1 606.8L376.2 608.3L377.0 609.5L378.7 610.9L379.2 613.0L379.8 615.0L379.9 617.3L380.8 619.1L382.4 620.5L383.4 621.2L382.1 622.7L381.3 623.7L378.7 625.3L379.1 627.6L379.8 629.4L379.6 631.5L380.9 632.8L380.8 634.5L381.1 636.6L381.3 638.6L381.9 640.2L382.3 642.7L383.6 644.5L383.9 646.8L384.5 648.2L385.9 650.4L386.9 652.1L388.5 653.0L388.5 654.6L389.5 657.1L390.8 658.2L391.6 660.0"/>
<path class="coast" d="M493.3 540.0L491.7 542.2L491.2 544.1L490.5 546.2L489.7 548.2L489.1 549.8L488.2 552.3L488.2 554.3L487.0 555.3L487.1 557.5L486.8 559.2L486.2 560.5L486.1 562.6L485.5 563.9L485.2 566.4L484.6 567.7L483.7 569.4L483.8 570.5L483.4 572.8L482.5 573.9L481.7 575.7L481.5 577.7L480.4 579.6L479.6 581.6L479.4 582.5L478.4 584.2L477.4 585.7L476.9 588.1L476.3 589.3L476.2 591.3L475.7 592.8L474.3 594.0L474.3 595.5L474.3 598.0L473.0 599.5L472.7 601.6L472.5 603.5L472.1 605.3L471.7 607.8L471.1 609.9L470.2 611.5L470.2 614.0L470.2 616.0L469.6 617.5L468.6 619.1L468.2 621.6L467.1 623.2L467.0 624.4L466.2 626.4L465.5 628.4L465.2 630.2L464.6 632.9L464.0 634.5L463.5 636.0L462.7 637.9L462.0 639.7L462.1 641.1L461.1 643.2L460.9 644.8L460.0 646.6L460.4 648.2L459.4 649.9L458.1 651.9L457.3 654.0L456.1 655.5L454.8 657.6L452.5 658.3L451.2 659.7"/>
<path class="coast" d="M388.5 652.2L388.8 654.4L389.6 656.8L390.6 658.0L392.1 659.9L393.0 660.9L395.2 662.0L396.2 662.9L398.0 663.6L399.3 664.2L401.4 664.5L402.9 665.1L404.6 665.5L406.0 666.0L407.6 667.3L409.6 669.1L410.7 670.2L412.2 671.3L413.7 672.2L415.2 671.9L417.8 671.9L420.3 671.5L421.9 671.7L423.3 670.8L424.4 670.5L426.0 669.1L427.5 668.2L429.1 666.2L431.2 665.5L433.3 664.6L434.1 663.7L436.3 662.9L437.9 662.7L439.3 661.6L441.4 661.4L443.7 662.0L444.5 661.9L446.6 662.4L448.1 661.8L450.1 661.1L451.7 659.9L453.4 658.9L454.7 658.1L455.8 656.8L457.0 655.0L457.8 653.6L458.4 651.6L459.5 649.4L460.2 647.3L460.4 646.0L461.3 644.2L461.5 642.7L462.0 640.3"/>
<path class="coast" d="M635.2 562.7L636.6 560.3L639.3 558.9L641.1 558.9L642.7 559.0L645.5 560.3L647.5 562.7L648.4 564.6L648.6 565.8L648.5 567.3L648.2 569.2L646.2 570.5L644.4 570.4L642.7 570.4L641.3 569.4L639.3 568.8L636.9 566.8L635.5 564.7L635.2 562.7"/>
<path class="coast" d="M682.1 543.8L683.8 542.1L685.5 540.4L687.3 539.4L689.0 541.1L690.1 543.8L689.3 546.6L687.3 549.0L684.5 550.5L682.9 550.2L681.4 549.7L681.1 547.6L682.1 545.5L682.1 543.8"/>
<path class="coast" d="M1615.1 89.8L1616.1 93.9L1618.2 97.0L1621.5 99.0"/>
<path class="coast" d="M1580.1 91.8L1581.6 90.8L1583.2 90.3L1585.2 90.7L1586.6 90.2L1588.4 90.3L1588.5 92.1L1589.4 94.4L1589.9 97.0L1588.7 98.8L1588.4 100.5L1587.8 103.6L1585.3 102.1L1582.7 101.1L1583.8 99.1L1584.8 98.0L1585.7 96.0L1585.8 94.4L1583.7 92.3L1582.3 92.4L1580.1 91.8"/>
<path class="coast" d="M1591.4 109.8L1593.8 109.2L1595.1 109.7L1597.1 109.0L1597.6 109.9L1599.1 111.8L1599.9 113.6L1601.0 115.6L1601.2 117.0L1602.1 119.2L1602.9 120.4L1603.8 122.1L1605.0 123.8L1605.8 125.7L1605.9 128.1L1606.3 130.3L1604.3 130.9L1603.3 128.3L1601.2 129.8L1599.1 127.8L1597.4 127.2L1596.1 125.7L1595.2 123.7L1594.0 121.6L1592.5 119.7L1592.0 118.0L1590.2 115.4L1590.5 113.6L1591.1 112.1L1591.4 109.8"/>
<path class="coast" d="M1610.4 132.9L1612.0 131.9L1613.5 133.2L1614.0 134.5L1615.0 136.4L1616.1 138.0L1617.9 139.7L1618.7 141.6L1616.1 142.2L1614.6 141.7L1613.0 140.6L1611.4 139.4L1610.4 138.6L1609.9 135.5L1610.4 132.9"/>
<path class="coast" d="M1620.4 144.7L1620.7 150.9"/>
<path class="coast" d="M1571.9 89.8L1574.0 91.3L1575.5 89.8"/>
<path class="coast" d="M243.5 481.5L242.5 482.9L240.4 483.1L239.3 484.8L237.3 485.6L236.5 487.7L235.4 488.6L233.4 490.0L232.5 491.8L231.5 493.2L230.1 494.2L229.6 496.0L228.4 497.3L227.0 499.0L226.1 499.2L224.6 501.3L223.3 502.4L222.3 503.4L220.6 505.3L219.9 507.5L219.5 510.0"/>
<path class="coast" d="M124.3 91.2L126.4 92.7L128.4 91.2L131.0 92.2L132.5 90.7L134.5 91.5L135.6 92.2L137.7 90.7"/>
<path class="coast" d="M116.1 139.5L118.2 136.4L120.2 138.4L122.3 136.4L124.3 138.4L126.4 136.9"/>
<path d="M212.8 96.8L213.7 96.0L214.5 96.8L213.7 97.7ZM216.4 98.7L217.3 97.8L218.1 98.7L217.3 99.5ZM218.3 106.1L219.3 105.0L220.4 106.1L219.3 107.1ZM207.2 152.8L208.0 152.0L208.9 152.8L208.0 153.7ZM200.5 159.0L201.4 158.1L202.2 159.0L201.4 159.8ZM178.9 175.7L179.8 174.9L180.6 175.7L179.8 176.6ZM208.2 174.4L209.1 173.5L209.9 174.4L209.1 175.2ZM204.6 183.3L205.5 182.5L206.3 183.3L205.5 184.2ZM196.4 184.9L197.3 184.0L198.1 184.9L197.3 185.7ZM188.0 189.3L188.8 188.4L189.7 189.3L188.8 190.1ZM193.3 192.4L194.2 191.5L195.0 192.4L194.2 193.2ZM183.4 194.4L184.2 193.6L185.1 194.4L184.2 195.3ZM239.0 175.7L239.9 174.9L240.7 175.7L239.9 176.6ZM248.6 161.8L249.5 161.0L250.3 161.8L249.5 162.7ZM249.8 168.0L250.7 167.2L251.5 168.0L250.7 168.9ZM93.7 121.5L94.5 120.6L95.4 121.5L94.5 122.3ZM98.0 125.3L98.8 124.4L99.7 125.3L98.8 126.1ZM94.7 126.1L95.5 125.2L96.4 126.1L95.5 126.9ZM95.7 130.2L96.6 129.4L97.4 130.2L96.6 131.1ZM95.2 134.3L96.1 133.5L96.9 134.3L96.1 135.2ZM99.5 135.3L100.5 134.3L101.5 135.3L100.5 136.4ZM86.5 135.5L87.5 134.5L88.6 135.5L87.5 136.6ZM85.5 141.5L86.5 140.5L87.5 141.5L86.5 142.5ZM81.2 142.7L82.2 141.7L83.2 142.7L82.2 143.8ZM122.4 121.5L123.3 120.6L124.1 121.5L123.3 122.3ZM126.0 121.0L126.9 120.1L127.7 121.0L126.9 121.8ZM135.8 121.0L136.6 120.1L137.5 121.0L136.6 121.8ZM119.9 126.1L120.7 125.2L121.6 126.1L120.7 126.9ZM138.4 96.1L139.2 95.2L140.1 96.1L139.2 96.9ZM159.9 91.7L160.8 90.8L161.6 91.7L160.8 92.5ZM148.1 90.1L149.0 89.3L149.8 90.1L149.0 91.0ZM138.9 91.2L139.7 90.3L140.6 91.2L139.7 92.0ZM167.1 99.4L168.0 98.5L168.8 99.4L168.0 100.2ZM81.0 277.4L81.8 276.5L82.7 277.4L81.8 278.3ZM87.8 343.2L88.7 342.3L89.6 343.2L88.7 344.0ZM91.3 343.2L92.1 342.3L93.0 343.2L92.1 344.0ZM181.7 355.5L182.5 354.6L183.4 355.5L182.5 356.3ZM191.3 456.8L192.1 456.0L193.0 456.8L192.1 457.7ZM274.1 474.2L275.0 473.4L275.9 474.2L275.0 475.1ZM146.1 518.2L147.3 517.0L148.5 518.2L147.3 519.4ZM100.7 543.4L101.7 542.4L102.7 543.4L101.7 544.5ZM306.7 593.8L307.6 593.0L308.5 593.8L307.6 594.7ZM188.5 642.2L189.4 641.3L190.2 642.2L189.4 643.0ZM184.6 646.8L186.0 645.5L187.3 646.8L186.0 648.2ZM171.5 651.4L172.5 650.3L173.6 651.4L172.5 652.4ZM141.8 657.5L142.8 656.5L143.8 657.5L142.8 658.6ZM142.0 657.9L143.2 656.7L144.4 657.9L143.2 659.1ZM171.9 651.4L172.9 650.3L174.0 651.4L172.9 652.4ZM121.4 716.2L122.9 714.6L124.5 716.2L122.9 717.7ZM132.2 731.9L133.9 730.2L135.6 731.9L133.9 733.6ZM137.4 715.5L138.3 714.6L139.1 715.5L138.3 716.3ZM141.5 706.4L142.4 705.6L143.2 706.4L142.4 707.3ZM142.2 696.6L143.1 695.7L143.9 696.6L143.1 697.4ZM125.1 750.7L126.0 749.8L126.8 750.7L126.0 751.5ZM344.4 108.3L345.2 107.4L346.1 108.3L345.2 109.1ZM339.8 114.5L340.7 113.6L341.5 114.5L340.7 115.3ZM303.5 155.1L304.4 154.3L305.2 155.1L304.4 156.0ZM298.3 163.1L299.2 162.2L300.0 163.1L299.2 163.9ZM295.0 168.8L295.9 168.0L296.7 168.8L295.9 169.7ZM290.5 178.8L291.4 178.0L292.2 178.8L291.4 179.7ZM287.8 277.0L288.6 276.1L289.5 277.0L288.6 277.8ZM285.5 255.8L286.3 254.9L287.2 255.8L286.3 256.6ZM286.6 286.6L287.9 285.2L289.3 286.6L287.9 287.9ZM289.1 296.2L290.0 295.3L290.9 296.2L290.0 297.0ZM311.2 327.7L312.6 326.3L314.0 327.7L312.6 329.0ZM313.1 341.4L314.0 340.5L314.8 341.4L314.0 342.2ZM310.2 366.0L311.9 364.3L313.6 366.0L311.9 367.7ZM309.2 377.0L310.5 375.6L311.9 377.0L310.5 378.4ZM442.2 304.1L443.0 303.3L443.9 304.1L443.0 305.0ZM465.5 304.1L466.7 302.9L467.9 304.1L466.7 305.3ZM469.3 311.5L470.1 310.7L471.0 311.5L470.1 312.4ZM459.7 345.2L460.5 344.4L461.4 345.2L460.5 346.1ZM313.3 421.0L314.7 419.7L316.0 421.0L314.7 422.4ZM294.8 452.5L296.2 451.2L297.5 452.5L296.2 453.9ZM274.1 474.2L274.9 473.3L275.8 474.2L274.9 475.0ZM358.6 470.1L359.5 469.2L360.3 470.1L359.5 470.9ZM385.7 505.7L386.6 504.8L387.4 505.7L386.6 506.5ZM448.8 516.9L449.9 515.9L450.9 516.9L449.9 517.9ZM489.4 365.2L490.4 364.2L491.4 365.2L490.4 366.2ZM488.4 374.5L489.4 373.4L490.4 374.5L489.4 375.5ZM492.1 376.7L493.0 375.9L493.8 376.7L493.0 377.6ZM459.8 345.2L460.6 344.3L461.5 345.2L460.6 346.0ZM466.4 412.5L467.3 411.6L468.1 412.5L467.3 413.3ZM501.5 358.0L503.3 356.2L505.1 358.0L503.3 359.8ZM513.0 372.9L514.0 371.9L515.1 372.9L514.0 373.9ZM485.0 385.8L486.3 384.5L487.6 385.8L486.3 387.0ZM448.8 517.1L449.8 516.1L450.9 517.1L449.8 518.2ZM427.2 449.3L428.3 448.3L429.3 449.3L428.3 450.3ZM438.8 443.9L440.6 442.1L442.4 443.9L440.6 445.7ZM415.9 447.5L417.0 446.4L418.0 447.5L417.0 448.5ZM421.2 446.2L422.1 445.4L422.9 446.2L422.1 447.1ZM498.8 513.7L499.7 512.9L500.5 513.7L499.7 514.6ZM497.3 520.4L498.1 519.6L499.0 520.4L498.1 521.3ZM418.9 573.4L419.8 572.5L420.7 573.4L419.8 574.3ZM379.6 584.4L381.1 582.8L382.6 584.4L381.1 585.9ZM382.1 590.9L383.2 589.8L384.2 590.9L383.2 591.9ZM381.3 636.1L382.3 635.0L383.4 636.1L382.3 637.1ZM376.2 570.8L377.2 569.8L378.2 570.8L377.2 571.8ZM386.6 556.4L387.5 555.6L388.3 556.4L387.5 557.3ZM395.4 663.2L396.2 662.3L397.1 663.2L396.2 664.0ZM381.3 636.2L382.4 635.2L383.4 636.2L382.4 637.3ZM633.8 171.0L634.7 170.2L635.5 171.0L634.7 171.9ZM644.1 172.9L644.9 172.1L645.8 172.9L644.9 173.8ZM645.3 183.4L647.0 181.6L648.7 183.4L647.0 185.1ZM634.1 187.1L635.3 185.9L636.5 187.1L635.3 188.3ZM638.1 191.8L640.1 189.8L642.2 191.8L640.1 193.9ZM650.0 190.1L650.8 189.2L651.7 190.1L650.8 190.9ZM998.9 206.5L1000.7 204.7L1002.4 206.5L1000.7 208.3ZM1008.4 206.8L1009.4 205.8L1010.4 206.8L1009.4 207.8ZM1002.9 207.5L1003.7 206.7L1004.6 207.5L1003.7 208.3ZM1010.4 214.4L1011.2 213.5L1012.1 214.4L1011.2 215.2ZM988.8 227.0L989.7 226.2L990.5 227.0L989.7 227.9ZM993.3 226.7L994.2 225.9L995.0 226.7L994.2 227.6ZM987.0 231.2L987.8 230.4L988.7 231.2L987.8 232.1ZM989.5 237.8L990.5 236.8L991.5 237.8L990.5 238.8ZM1011.9 251.0L1013.7 249.2L1015.5 251.0L1013.7 252.8ZM1545.3 351.0L1546.1 350.1L1547.0 351.0L1546.1 351.8ZM1550.9 358.5L1552.1 357.4L1553.2 358.5L1552.1 359.6ZM1125.3 990.8L1126.4 989.7L1127.4 990.8L1126.4 991.8ZM1125.5 1015.1L1126.4 1014.2L1127.2 1015.1L1126.4 1015.9ZM81.9 1049.3L83.2 1048.0L84.5 1049.3L83.2 1050.6ZM618.5 443.1L619.4 442.2L620.2 443.1L619.4 443.9ZM728.1 464.7L728.9 463.8L729.8 464.7L728.9 465.5ZM1034.0 95.1L1035.0 94.0L1036.0 95.1L1035.0 96.1ZM1028.1 102.9L1030.2 100.8L1032.3 102.9L1030.2 105.1ZM592.2 208.7L593.4 207.6L594.5 208.7L593.4 209.9ZM591.8 216.1L592.9 215.1L593.9 216.1L592.9 217.2ZM600.1 214.6L601.1 213.6L602.1 214.6L601.1 215.6ZM586.0 226.7L586.9 225.8L587.8 226.7L586.9 227.6ZM588.7 225.5L589.6 224.6L590.4 225.5L589.6 226.3ZM579.1 243.9L580.0 243.0L580.9 243.9L580.0 244.8ZM657.2 246.7L658.3 245.6L659.5 246.7L658.3 247.9ZM664.8 318.7L665.8 317.6L666.8 318.7L665.8 319.7ZM127.6 95.3L128.4 94.4L129.3 95.3L128.4 96.1ZM130.1 97.8L131.0 97.0L131.8 97.8L131.0 98.7ZM132.7 96.3L133.6 95.5L134.4 96.3L133.6 97.2ZM128.6 101.4L129.5 100.6L130.3 101.4L129.5 102.3ZM131.2 100.4L132.0 99.6L132.9 100.4L132.0 101.3ZM134.3 98.9L135.1 98.0L136.0 98.9L135.1 99.7ZM135.8 94.2L136.6 93.4L137.5 94.2L136.6 95.1ZM131.7 93.2L132.5 92.4L133.4 93.2L132.5 94.1ZM126.0 98.9L126.9 98.0L127.7 98.9L126.9 99.7ZM129.6 104.0L130.5 103.2L131.3 104.0L130.5 104.9ZM119.4 142.5L120.2 141.7L121.1 142.5L120.2 143.4ZM121.9 145.6L122.8 144.8L123.6 145.6L122.8 146.5ZM120.4 148.7L121.2 147.8L122.1 148.7L121.2 149.5ZM123.5 142.0L124.3 141.2L125.2 142.0L124.3 142.9ZM125.5 145.1L126.4 144.3L127.2 145.1L126.4 146.0ZM118.3 146.6L119.2 145.8L120.0 146.6L119.2 147.5ZM145.0 130.2L145.9 129.4L146.7 130.2L145.9 131.1ZM148.1 132.3L149.0 131.4L149.8 132.3L149.0 133.1ZM152.2 130.7L153.1 129.9L153.9 130.7L153.1 131.6ZM155.3 132.8L156.2 131.9L157.0 132.8L156.2 133.6ZM146.1 134.3L146.9 133.5L147.8 134.3L146.9 135.2ZM153.3 128.2L154.1 127.3L155.0 128.2L154.1 129.0ZM150.2 135.9L151.0 135.0L151.9 135.9L151.0 136.7ZM161.5 120.4L162.3 119.6L163.2 120.4L162.3 121.3ZM164.6 119.4L165.4 118.6L166.3 119.4L165.4 120.3ZM162.5 122.5L163.4 121.7L164.2 122.5L163.4 123.3ZM166.6 99.9L167.5 99.0L168.3 99.9L167.5 100.7ZM169.7 97.8L170.5 97.0L171.4 97.8L170.5 98.7ZM176.9 99.4L177.7 98.5L178.6 99.4L177.7 100.2Z" fill="#000" stroke="#000" stroke-width="1.3" stroke-linejoin="round"/>
</g>
<g clip-path="url(#mc)">
<path class="lgt" d="M471.0 335.3C471.7 335.5 469.2 334.7 472.9 335.9C476.7 337.2 475.7 336.4 482.2 339.0C488.7 341.6 486.3 340.5 492.5 343.6C498.6 346.7 495.9 345.2 500.7 348.3C505.5 351.3 503.1 348.9 506.8 352.9C510.6 356.8 508.6 354.9 512.0 360.1C515.4 365.2 513.9 362.5 517.1 368.3C520.4 374.1 519.2 371.4 521.7 377.5C524.3 383.7 522.8 380.3 524.8 386.8C526.9 393.3 525.9 390.2 527.9 397.1C530.0 403.9 529.5 401.2 531.0 407.3C532.5 413.5 531.8 410.1 532.5 415.5C533.2 421.0 533.0 418.6 533.0 423.8C533.0 428.9 533.0 425.5 532.5 431.0C532.0 436.4 532.0 433.7 531.5 440.0C531.0 446.3 530.9 445.0 531.1 450.0C531.2 455.0 531.1 450.9 532.0 455.1C532.8 459.4 532.1 457.7 533.7 462.8C535.2 468.0 534.4 465.7 536.7 470.5C538.9 475.4 537.8 472.5 540.5 477.4C543.2 482.2 542.2 480.5 544.8 485.1C547.4 489.7 546.2 487.4 548.2 491.1C550.2 494.8 549.1 492.5 550.8 496.2C552.5 499.9 551.4 498.8 553.4 502.2C555.4 505.7 553.6 503.7 556.8 506.5C559.9 509.4 557.9 507.9 562.8 510.8C567.6 513.6 565.6 512.5 571.3 515.1C577.0 517.6 574.2 516.2 579.9 518.5C585.6 520.8 582.8 519.9 588.5 521.9C594.2 523.9 591.3 522.8 597.0 524.5C602.7 526.2 599.9 525.3 605.6 527.1C611.3 528.8 608.4 527.9 614.1 529.6C619.9 531.3 619.2 531.1 622.7 532.2C626.2 533.2 624.0 532.6 624.6 532.8M511.5 466.6C511.8 467.2 511.0 465.7 512.4 468.4C513.8 471.1 512.6 470.7 515.7 474.8C518.8 479.0 517.4 477.1 521.7 480.8C526.0 484.5 523.7 482.5 528.5 486.0C533.4 489.4 532.0 487.7 536.2 491.1C540.5 494.5 536.8 492.2 541.4 496.2C545.9 500.2 544.2 499.1 549.9 503.1C555.6 507.1 552.8 505.4 558.5 508.2C564.2 511.1 561.3 509.1 567.1 511.6C572.8 514.2 569.9 513.1 575.6 515.9C581.3 518.8 578.5 517.6 584.2 520.2C589.9 522.8 587.0 521.6 592.7 523.6C598.4 525.6 595.6 524.2 601.3 526.2C607.0 528.2 604.2 527.3 609.9 529.6C615.6 531.9 612.7 530.8 618.4 533.0C624.1 535.3 623.5 535.1 627.0 536.5C630.5 537.9 628.2 537.0 628.8 537.2M511.3 468.6C511.5 469.3 510.9 467.3 511.8 470.5C512.7 473.8 511.8 473.7 514.0 478.3C516.1 482.8 515.4 480.8 518.3 484.2C521.1 487.7 520.5 485.7 522.5 488.5C524.5 491.4 523.2 490.0 524.2 492.8C525.2 495.7 523.5 495.2 525.5 497.1C527.5 498.9 527.2 497.2 530.2 498.4C533.2 499.5 531.4 498.7 534.5 500.5C537.7 502.4 535.7 501.9 539.7 503.9C543.7 505.9 541.4 504.8 546.5 506.5C551.6 508.2 549.4 507.4 555.1 509.1C560.8 510.8 557.9 509.6 563.6 511.6C569.3 513.6 566.5 512.8 572.2 515.1C577.9 517.4 575.0 515.9 580.8 518.5C586.5 521.1 583.6 519.9 589.3 522.8C595.0 525.6 592.7 525.1 597.9 527.1C603.0 529.1 599.3 527.1 604.7 528.8C610.1 530.5 607.9 529.9 614.1 532.2C620.4 534.5 617.9 533.3 623.6 535.6C629.3 537.9 628.1 537.6 631.3 539.0C634.4 540.5 632.5 539.6 633.1 539.9M510.0 482.3C510.0 482.9 509.9 481.3 510.1 484.2C510.3 487.2 509.5 487.4 510.5 491.1C511.5 494.8 510.3 493.1 513.1 495.4C516.0 497.7 514.5 496.8 519.1 497.9C523.7 499.1 522.2 498.5 526.8 498.8C531.4 499.1 529.7 497.9 532.8 498.8C535.9 499.7 533.4 499.4 536.2 501.4C539.1 503.4 536.8 502.5 541.4 504.8C545.9 507.1 544.2 506.2 549.9 508.2C555.6 510.2 552.8 508.8 558.5 510.8C564.2 512.8 561.3 511.6 567.1 514.2C572.8 516.8 569.9 516.2 575.6 518.5C581.3 520.8 578.5 519.6 584.2 521.1C589.9 522.5 587.0 521.9 592.7 522.8C598.4 523.6 595.6 522.8 601.3 523.6C607.0 524.5 604.2 523.6 609.9 525.3C615.6 527.1 612.7 526.5 618.4 528.8C624.1 531.1 621.3 529.9 627.0 532.2C632.7 534.5 632.1 534.2 635.5 535.6C639.0 537.0 636.8 536.1 637.4 536.4M507.1 493.0C507.5 493.5 506.7 492.6 508.4 494.5C510.1 496.4 509.8 496.5 512.3 498.8C514.7 501.1 512.3 499.4 515.7 501.4C519.1 503.4 517.7 502.2 522.5 504.8C527.4 507.4 525.1 506.5 530.2 509.1C535.4 511.6 532.5 510.5 537.9 512.5C543.4 514.5 540.8 513.4 546.5 515.1C552.2 516.8 549.4 515.9 555.1 517.6C560.8 519.3 557.9 518.5 563.6 520.2C569.3 521.9 566.5 521.1 572.2 522.8C577.9 524.5 575.0 523.9 580.8 525.3C586.5 526.8 583.6 525.9 589.3 527.1C595.0 528.2 592.2 527.6 597.9 528.8C603.6 529.9 600.7 529.3 606.4 530.5C612.1 531.6 609.3 531.1 615.0 532.2C620.7 533.3 618.1 532.8 623.6 533.9C629.0 535.0 628.0 534.9 631.3 535.6C634.5 536.3 632.6 535.9 633.2 536.1M515.7 500.4C515.4 501.0 515.7 500.5 514.8 502.2C514.0 504.0 513.5 503.4 513.1 505.7C512.7 507.9 512.4 507.4 513.5 509.1C514.7 510.8 513.0 509.6 516.5 510.8C520.1 511.9 518.8 511.1 524.2 512.5C529.7 513.9 527.1 513.4 532.8 515.1C538.5 516.8 535.7 516.5 541.4 517.6C547.1 518.8 544.2 518.2 549.9 518.5C555.6 518.8 552.8 518.2 558.5 518.5C564.2 518.8 561.3 518.5 567.1 519.3C572.8 520.2 569.9 519.6 575.6 521.1C581.3 522.5 578.5 521.9 584.2 523.6C589.9 525.3 587.0 524.2 592.7 526.2C598.4 528.2 595.6 527.1 601.3 529.6C607.0 532.2 604.2 531.1 609.9 533.9C615.6 536.8 615.0 536.5 618.4 538.2C621.9 539.9 619.6 538.8 620.2 539.1M502.6 508.3C503.0 508.8 502.2 507.7 503.7 509.9C505.2 512.2 504.6 512.2 507.1 515.1C509.7 517.9 507.7 516.5 511.4 518.5C515.1 520.5 513.4 521.1 518.3 521.1C523.1 521.1 520.5 519.6 526.0 518.5C531.4 517.4 528.8 517.4 534.5 517.6C540.2 517.9 537.4 518.2 543.1 519.3C548.8 520.5 545.9 520.2 551.6 521.1C557.4 521.9 554.5 521.3 560.2 521.9C565.9 522.5 563.1 521.9 568.8 522.8C574.5 523.6 571.6 523.1 577.3 524.5C583.0 525.9 580.2 525.1 585.9 527.1C591.6 529.1 588.7 528.2 594.5 530.5C600.2 532.8 597.9 531.9 603.0 533.9C608.2 535.9 604.7 534.2 609.9 536.5C615.0 538.8 615.0 539.0 618.4 540.8C621.9 542.5 619.6 541.3 620.2 541.6M501.1 516.7C501.4 517.3 500.8 516.2 502.0 518.5C503.1 520.8 502.0 521.3 504.6 523.6C507.1 525.9 505.4 524.8 509.7 525.3C514.0 525.9 512.0 525.3 517.4 525.3C522.8 525.3 520.3 525.3 526.0 525.3C531.7 525.3 528.8 525.1 534.5 525.3C540.2 525.6 537.4 525.6 543.1 526.2C548.8 526.8 545.9 526.5 551.6 527.1C557.4 527.6 554.5 527.3 560.2 527.9C565.9 528.5 563.1 527.9 568.8 528.8C574.5 529.6 572.2 529.3 577.3 530.5C582.5 531.6 581.6 530.5 584.2 532.2C586.7 533.9 584.9 532.8 585.0 535.6C585.2 538.5 583.5 537.6 584.6 540.8C585.7 543.9 584.3 542.5 588.5 545.0C592.6 547.6 593.5 547.1 597.0 548.5C600.5 549.8 598.3 549.0 598.9 549.2M497.9 522.4C498.4 522.8 497.5 522.1 499.4 523.6C501.4 525.2 500.6 524.8 503.7 527.1C506.8 529.3 504.8 528.8 508.8 530.5C512.8 532.2 511.1 531.5 515.7 532.2C520.3 532.9 517.4 532.6 522.5 532.6C527.7 532.6 525.4 532.6 531.1 532.2C536.8 531.8 533.9 531.6 539.7 531.3C545.4 531.1 542.5 530.8 548.2 531.3C553.9 531.9 551.1 531.9 556.8 533.0C562.5 534.2 559.6 533.9 565.3 534.8C571.1 535.6 568.2 535.3 573.9 535.6C579.6 535.9 576.8 535.3 582.5 535.6C588.2 535.9 585.3 535.9 591.0 536.5C596.7 537.0 593.9 536.5 599.6 537.3C605.3 538.2 602.4 537.3 608.2 539.0C613.9 540.8 613.2 541.1 616.7 542.5C620.2 543.9 618.0 543.0 618.6 543.2M502.3 537.9C502.8 537.4 502.1 538.1 503.7 536.5C505.3 534.9 504.6 535.3 507.1 533.0C509.7 530.8 508.6 531.6 511.4 529.6C514.3 527.6 512.0 529.1 515.7 527.1C519.4 525.1 517.4 525.1 522.5 523.6C527.7 522.2 525.4 522.8 531.1 522.8C536.8 522.8 533.4 523.1 539.7 523.6C545.9 524.2 543.1 523.9 549.9 524.5C556.8 525.1 553.4 524.5 560.2 525.3C567.1 526.2 563.6 525.9 570.5 527.1C577.3 528.2 573.9 527.1 580.8 528.8C587.6 530.5 584.7 529.9 591.0 532.2C597.3 534.5 593.9 532.8 599.6 535.6C605.3 538.5 603.3 537.3 608.2 540.8C613.0 544.2 611.6 543.7 614.1 545.9C616.6 548.0 615.2 546.8 615.7 547.2M493.1 539.7C493.8 539.8 491.9 539.5 495.1 539.9C498.4 540.3 497.4 540.5 502.8 540.8C508.3 541.0 505.7 540.5 511.4 540.8C517.1 541.0 514.3 541.2 520.0 541.6C525.7 542.0 522.8 541.8 528.5 542.0C534.2 542.3 531.4 542.2 537.1 542.5C542.8 542.8 539.9 542.6 545.7 542.9C551.4 543.2 548.5 542.9 554.2 543.3C559.9 543.8 557.1 543.6 562.8 544.2C568.5 544.7 565.6 544.2 571.3 545.0C577.0 545.9 574.2 545.6 579.9 546.7C585.6 547.9 582.8 547.4 588.5 548.5C594.2 549.5 593.5 549.4 597.0 550.0C600.5 550.6 598.3 550.2 599.0 550.4M508.8 476.3C508.9 477.0 508.4 474.8 509.3 478.3C510.1 481.8 510.4 481.4 511.4 486.8C512.4 492.2 512.3 489.7 512.3 494.5C512.3 499.4 512.3 496.8 511.4 501.4C510.5 505.9 509.7 504.2 509.7 508.2C509.7 512.2 509.4 510.2 511.4 513.4C513.4 516.5 512.0 514.8 515.7 517.6C519.4 520.5 517.4 519.6 522.5 521.9C527.7 524.2 524.8 522.8 531.1 524.5C537.4 526.2 534.5 525.3 541.4 527.1C548.2 528.8 544.8 527.9 551.6 529.6C558.5 531.3 555.1 530.5 561.9 532.2C568.8 533.9 565.3 532.8 572.2 534.8C579.0 536.8 575.6 536.2 582.5 538.2C589.3 540.2 585.9 538.8 592.7 540.8C599.6 542.8 596.7 541.9 603.0 544.2C609.3 546.5 608.1 546.2 611.6 547.6C615.0 549.0 612.8 548.1 613.4 548.3M509.6 473.1C509.9 473.7 508.8 471.7 510.5 474.8C512.3 478.0 511.7 478.3 514.8 482.5C518.0 486.8 516.3 484.5 520.0 487.7C523.7 490.8 522.2 489.7 526.0 492.0C529.7 494.2 527.1 492.5 531.1 494.5C535.1 496.5 532.8 495.1 537.9 497.9C543.1 500.8 540.8 499.9 546.5 503.1C552.2 506.2 549.4 505.1 555.1 507.4C560.8 509.6 557.9 508.2 563.6 509.9C569.3 511.6 566.5 510.2 572.2 512.5C577.9 514.8 575.0 514.5 580.8 516.8C586.5 519.1 583.6 517.9 589.3 519.3C595.0 520.8 592.2 519.9 597.9 521.1C603.6 522.2 600.7 521.6 606.4 522.8C612.1 523.9 611.5 523.8 615.0 524.5C618.5 525.2 616.3 524.7 617.0 524.9M486.4 553.8C487.0 553.5 484.1 555.0 488.2 552.8C492.2 550.6 491.6 550.1 498.4 547.2C505.3 544.3 501.8 545.5 508.7 544.1C515.5 542.7 510.4 542.9 519.0 543.1C527.5 543.3 524.0 542.6 534.4 544.6C544.7 546.7 540.6 549.2 550.0 549.2C559.4 549.3 553.5 545.3 562.5 544.8C571.4 544.3 566.6 545.5 576.8 547.9C587.1 550.3 582.3 548.6 593.3 552.0C604.2 555.4 600.1 555.1 609.7 558.2C619.3 561.2 617.3 560.0 622.1 561.2C626.8 562.4 623.3 561.6 624.0 561.7M480.0 575.6C480.7 575.6 477.6 575.8 482.0 575.4C486.4 575.0 482.7 575.1 493.3 574.4C503.9 573.7 500.1 573.7 513.8 573.4C527.5 573.0 522.3 573.2 534.4 573.4C546.4 573.6 542.7 576.9 550.0 573.9C557.3 570.9 548.7 567.0 556.3 564.3C563.9 561.6 561.8 564.7 572.7 565.8C583.7 566.8 578.2 566.3 589.2 567.4C600.1 568.5 594.7 567.7 605.6 569.0C616.6 570.4 612.5 569.3 622.1 571.5C631.6 573.7 629.6 574.0 634.4 575.6C639.1 577.2 635.6 576.0 636.3 576.2M476.9 583.3C477.6 583.2 474.8 583.4 478.9 583.2C483.0 582.9 481.0 583.3 489.2 582.6C497.4 582.0 495.3 583.3 503.6 581.1C511.8 578.9 508.7 579.7 513.8 576.0C519.0 572.2 515.5 572.9 519.0 569.8C522.4 566.7 519.0 568.8 524.1 566.7C529.2 564.7 525.8 565.9 534.4 563.6C543.0 561.4 540.6 563.2 550.0 560.0C559.4 556.8 553.5 556.4 562.5 554.0C571.4 551.7 566.6 552.7 576.8 553.0C587.1 553.4 582.3 552.7 593.3 555.1C604.2 557.5 600.8 557.5 609.7 560.2C618.6 562.9 615.9 562.1 620.0 563.3C624.1 564.5 621.3 563.7 621.9 563.9M474.9 589.8C475.6 589.6 474.1 590.0 476.8 589.3C479.6 588.6 478.2 589.8 483.0 587.8C487.8 585.7 486.1 585.4 491.2 583.2C496.4 580.9 492.6 582.5 498.4 581.1C504.2 579.7 501.8 581.1 508.7 579.0C515.5 577.0 510.4 577.7 519.0 574.9C527.5 572.2 524.0 573.2 534.4 570.8C544.7 568.4 540.6 571.6 550.0 567.7C559.4 563.9 552.8 562.0 562.5 559.2C572.1 556.3 567.9 558.5 578.9 559.2C589.9 559.9 584.4 559.2 595.3 561.2C606.3 563.3 602.2 561.9 611.8 565.3C621.4 568.8 616.6 566.7 624.1 571.5C631.6 576.3 630.4 576.6 634.4 579.7C638.3 582.9 635.4 580.6 635.9 581.0M471.3 598.6C471.9 598.6 469.3 598.6 473.3 598.6C477.2 598.6 476.3 598.4 483.0 598.6C489.7 598.7 486.4 599.1 493.3 599.1C500.1 599.1 496.7 598.6 503.6 598.6C510.4 598.6 507.0 598.6 513.8 599.1C520.7 599.6 517.3 599.6 524.1 600.1C531.0 600.6 525.8 600.1 534.4 600.6C543.0 601.1 540.6 608.6 550.0 601.6C559.4 594.7 553.5 586.3 562.5 579.7C571.4 573.1 566.6 580.4 576.8 581.8C587.1 583.2 582.3 582.1 593.3 583.8C604.2 585.5 598.8 584.2 609.7 586.9C620.7 589.7 615.2 588.3 626.2 592.1C637.1 595.8 633.0 594.1 642.6 598.2C652.2 602.3 648.1 599.6 654.9 604.4C661.8 609.2 659.9 609.4 663.2 612.6C666.4 615.8 664.1 613.5 664.6 614.0M471.9 602.7C472.5 602.5 471.4 602.9 473.8 602.2C476.1 601.5 476.5 602.2 478.9 600.6C481.3 599.1 479.2 599.6 481.0 597.5C482.7 595.5 480.6 596.7 484.0 594.5C487.5 592.2 486.4 592.2 491.2 590.9C496.0 589.5 492.6 590.2 498.4 590.3C504.2 590.5 500.1 591.4 508.7 591.4C517.3 591.4 513.8 591.0 524.1 590.3C534.4 589.7 530.9 589.8 539.5 589.3C548.2 588.8 542.4 594.1 550.0 588.8C557.6 583.6 553.5 578.8 562.5 573.6C571.4 568.3 566.6 572.8 576.8 573.2C587.1 573.5 582.3 573.1 593.3 574.6C604.2 576.1 598.8 575.3 609.7 577.7C620.7 580.1 615.2 578.4 626.2 581.8C637.1 585.2 633.0 583.2 642.6 587.9C652.2 592.7 650.3 593.1 654.9 596.2C659.6 599.3 656.0 596.9 656.6 597.3M477.4 613.9C477.4 613.3 477.4 614.3 477.4 611.9C477.4 609.5 476.5 610.2 477.4 606.8C478.2 603.4 477.4 605.1 479.9 601.6C482.5 598.2 481.3 599.6 485.1 596.5C488.8 593.4 486.4 595.1 491.2 592.4C496.0 589.7 493.3 591.0 499.5 588.3C505.6 585.5 502.9 587.3 509.7 584.2C516.6 581.1 513.2 581.8 520.0 579.0C526.8 576.3 523.4 577.7 530.3 576.0C537.1 574.2 534.0 574.9 540.5 573.9C547.1 572.9 542.0 576.4 550.0 572.9C558.0 569.3 554.2 566.3 564.5 563.3C574.8 560.2 570.0 563.0 581.0 563.7C591.9 564.4 586.4 562.7 597.4 565.3C608.4 567.9 607.7 569.2 613.8 571.5C619.9 573.8 615.1 572.0 615.7 572.2M465.4 624.8C466.0 624.4 464.6 625.3 467.1 623.7C469.5 622.2 468.8 623.4 472.7 620.1C476.7 616.9 474.8 618.1 478.9 614.0C483.0 609.9 480.3 611.6 485.1 607.8C489.9 604.0 487.1 605.1 493.3 602.7C499.5 600.3 498.4 601.6 503.6 600.6C508.7 599.6 503.6 602.7 508.7 599.6C513.8 596.5 512.1 596.5 519.0 591.4C525.8 586.2 522.4 587.6 529.2 584.2C536.1 580.8 532.6 582.5 539.5 581.1C546.4 579.7 542.4 584.3 550.0 580.1C557.6 575.8 552.8 572.3 562.5 568.4C572.1 564.5 567.9 568.1 578.9 568.4C589.9 568.8 585.1 567.7 595.3 569.5C605.6 571.2 600.8 570.1 609.7 573.6C618.6 577.0 617.3 577.4 622.1 579.7C626.8 582.1 623.2 580.3 623.8 580.6M463.9 630.5C464.5 630.2 462.6 631.5 465.5 629.4C468.5 627.3 466.9 628.0 472.7 624.2C478.6 620.5 476.2 621.5 483.0 618.1C489.9 614.7 486.4 616.7 493.3 614.0C500.1 611.2 496.7 612.6 503.6 609.9C510.4 607.1 508.7 608.5 513.8 605.8C519.0 603.0 516.2 604.4 519.0 601.6C521.7 598.9 518.3 600.3 522.1 597.5C525.8 594.8 524.5 595.5 530.3 593.4C536.1 591.4 532.9 592.1 539.5 591.4C546.1 590.7 542.4 596.6 550.0 591.4C557.6 586.1 553.5 580.5 562.5 575.6C571.4 570.7 566.6 575.3 576.8 576.6C587.1 578.0 582.3 577.3 593.3 579.7C604.2 582.1 598.8 580.4 609.7 583.8C620.7 587.3 616.6 585.9 626.2 590.0C635.8 594.1 633.8 593.8 638.5 596.2C643.2 598.5 639.7 596.8 640.3 597.1M458.3 654.7C458.7 654.1 457.3 656.3 459.4 653.0C461.4 649.7 460.1 650.6 464.5 644.8C469.0 639.0 466.6 640.7 472.7 635.5C478.9 630.4 476.2 632.8 483.0 629.4C489.9 626.0 486.4 627.7 493.3 625.3C500.1 622.9 496.7 624.2 503.6 622.2C510.4 620.1 507.0 621.2 513.8 619.1C520.7 617.1 517.3 617.7 524.1 616.0C531.0 614.3 525.8 615.3 534.4 614.0C543.0 612.6 540.0 618.9 550.0 611.9C560.0 605.0 554.2 599.0 564.5 593.1C574.8 587.1 570.0 593.1 581.0 594.1C591.9 595.1 586.4 594.1 597.4 596.2C608.4 598.2 602.9 597.5 613.8 600.3C624.8 603.0 619.3 601.0 630.3 604.4C641.2 607.8 637.1 606.4 646.7 610.5C656.3 614.7 654.3 614.4 659.0 616.7C663.7 619.1 660.2 617.3 660.8 617.6M459.2 661.6C459.6 661.0 457.6 663.5 460.4 660.0C463.2 656.5 461.8 657.4 467.6 651.0C473.4 644.5 471.0 646.8 477.9 640.7C484.7 634.5 481.3 637.6 488.2 632.5C495.0 627.3 492.3 629.4 498.4 625.3C504.6 621.2 501.5 624.6 506.6 620.1C511.8 615.7 509.7 616.7 513.8 611.9C517.9 607.1 515.5 609.5 519.0 605.8C522.4 602.0 519.0 603.4 524.1 600.6C529.2 597.9 525.8 599.1 534.4 597.5C543.0 596.0 540.6 602.5 550.0 596.0C559.4 589.5 552.8 583.5 562.5 578.1C572.1 572.7 567.9 577.8 578.9 579.7C589.9 581.6 584.4 580.4 595.3 583.8C606.3 587.3 600.8 585.9 611.8 590.0C622.7 594.1 622.1 593.9 628.2 596.2C634.3 598.5 629.5 596.6 630.1 596.9M471.2 661.3C471.7 660.9 468.8 663.5 472.7 660.0C476.7 656.5 476.2 656.7 483.0 651.0C489.9 645.2 486.4 647.5 493.3 642.7C500.1 637.9 496.7 640.3 503.6 636.6C510.4 632.8 507.0 634.5 513.8 631.4C520.7 628.4 517.3 630.1 524.1 627.3C531.0 624.6 525.8 626.0 534.4 623.2C543.0 620.5 540.0 626.8 550.0 619.1C560.0 611.5 554.2 605.9 564.5 600.3C574.8 594.7 570.0 600.3 581.0 602.3C591.9 604.4 586.4 603.7 597.4 606.4C608.4 609.2 602.9 607.8 613.8 610.5C624.8 613.3 619.3 612.6 630.3 614.7C641.2 616.7 635.8 615.7 646.7 616.7C657.7 617.7 657.0 617.4 663.2 617.7C669.3 618.1 664.5 617.8 665.1 617.9M376.1 689.5C376.3 688.9 376.0 690.0 376.7 687.6C377.4 685.3 377.6 685.9 378.3 682.5C378.9 679.0 379.1 680.4 378.8 677.3C378.4 674.2 378.3 675.6 377.2 673.2C376.2 670.8 375.7 672.2 375.7 670.1C375.7 668.1 375.9 668.3 377.2 667.1C378.6 665.9 377.9 666.0 379.8 666.5C381.7 667.1 380.5 666.5 382.9 668.6C385.3 670.7 384.2 670.7 387.0 672.7C389.7 674.8 388.0 673.9 391.1 674.8C394.2 675.6 391.1 675.3 396.2 675.3C401.4 675.3 399.7 675.1 406.5 674.8C413.4 674.4 409.9 675.1 416.8 674.2C423.6 673.4 420.2 673.6 427.1 672.2C433.9 670.8 430.5 671.8 437.3 670.1C444.2 668.4 442.5 669.1 447.6 667.1C452.7 665.0 449.7 666.4 452.7 664.0C455.8 661.6 454.5 663.3 456.8 659.9C459.2 656.4 458.2 657.8 459.9 653.7C461.6 649.6 461.0 651.6 462.0 647.5C463.0 643.4 462.6 644.1 463.0 641.4C463.5 638.7 463.2 640.1 463.3 639.4M359.8 683.5C359.8 684.2 359.8 683.5 359.8 685.5C359.8 687.6 359.1 686.6 359.8 689.7C360.4 692.7 359.6 691.9 361.8 694.8C364.0 697.7 362.8 696.5 366.4 698.4C370.0 700.3 368.5 699.7 372.6 700.4C376.7 701.2 375.0 700.8 378.8 700.8C382.5 700.8 381.0 700.2 383.9 700.4C386.8 700.7 385.6 701.6 387.5 701.5C389.4 701.3 387.7 702.2 389.6 699.9C391.4 697.7 389.9 697.9 393.2 694.8C396.4 691.7 395.2 693.4 399.3 690.7C403.4 687.9 401.4 688.6 405.5 686.6C409.6 684.5 406.8 685.9 411.6 684.5C416.4 683.2 414.4 683.8 419.9 682.5C425.3 681.1 422.3 682.1 428.1 680.4C433.9 678.7 430.8 679.7 437.3 677.3C443.8 674.9 440.8 676.3 447.6 673.2C454.5 670.1 451.0 672.2 457.9 668.1C464.7 664.0 461.3 666.4 468.2 660.9C475.0 655.4 471.6 658.2 478.4 651.6C485.3 645.1 481.8 648.2 488.7 641.4C495.5 634.5 492.1 636.9 499.0 631.1C505.8 625.3 502.4 628.0 509.2 623.9C516.1 619.8 512.6 621.5 519.5 618.8C526.4 616.0 515.0 638.6 530.0 615.7C545.0 592.7 547.5 571.5 564.5 549.9C581.5 528.4 570.0 549.2 581.0 551.0C591.9 552.7 586.4 551.0 597.4 555.1C608.4 559.2 607.8 560.2 613.8 563.3C619.9 566.3 615.0 563.9 615.6 564.2M372.7 711.8C373.0 711.2 372.3 712.6 373.6 710.0C375.0 707.4 374.3 707.7 376.7 704.0C379.1 700.3 376.7 702.3 380.8 698.9C384.9 695.5 383.6 696.8 389.0 693.8C394.5 690.7 391.8 692.1 397.3 689.7C402.7 687.3 400.0 688.5 405.5 686.6C411.0 684.7 408.2 685.7 413.7 684.0C419.2 682.3 415.8 683.7 421.9 681.4C428.1 679.2 425.3 680.8 432.2 677.3C439.0 673.9 435.6 676.3 442.5 671.2C449.3 666.0 447.6 667.1 452.7 661.9C457.9 656.8 454.8 660.5 457.9 655.8C461.0 651.0 459.6 653.0 462.0 647.5C464.4 642.1 463.8 642.7 465.1 639.3C466.3 636.0 465.5 638.1 465.8 637.4M428.1 690.0C428.6 689.5 427.6 690.4 429.6 688.6C431.7 686.8 431.0 687.6 434.2 684.5C437.5 681.4 435.6 683.2 439.4 679.4C443.2 675.6 441.8 677.0 445.5 673.2C449.3 669.5 447.6 671.2 450.7 668.1C453.8 665.0 452.1 667.7 454.8 664.0C457.5 660.2 457.2 659.8 458.9 656.8C460.6 653.8 459.6 655.6 459.9 655.0M419.5 705.0C420.1 704.9 418.5 705.2 421.4 704.6C424.3 703.9 423.8 704.2 428.1 703.0C432.4 701.8 430.1 703.0 434.2 701.0C438.4 698.9 436.6 699.9 440.4 696.8C444.2 693.8 442.5 695.1 445.5 691.7C448.6 688.3 446.9 690.3 449.7 686.6C452.4 682.8 451.0 684.5 453.8 680.4C456.5 676.3 454.8 678.4 457.9 674.2C461.0 670.1 459.6 672.2 463.0 668.1C466.4 664.0 464.7 666.0 468.2 661.9C471.6 657.8 469.5 660.5 473.3 655.8C477.1 651.0 475.3 653.0 479.5 647.5C483.6 642.1 480.8 644.8 485.6 639.3C490.4 633.8 487.7 636.2 493.8 631.1C500.0 626.0 497.3 627.7 504.1 623.9C511.0 620.1 505.8 621.8 514.4 619.8C523.0 617.7 524.1 618.5 530.0 617.7C535.9 617.0 531.3 617.6 532.0 617.5M422.1 683.2C422.7 682.9 420.6 683.7 424.0 682.5C427.3 681.2 426.0 681.4 432.2 679.4C438.4 677.3 435.6 678.4 442.5 676.3C449.3 674.2 445.9 675.6 452.7 673.2C459.6 670.8 456.2 672.5 463.0 669.1C469.9 665.7 466.4 667.7 473.3 662.9C480.1 658.2 476.7 660.2 483.6 654.7C490.4 649.2 487.0 651.6 493.8 646.5C500.7 641.4 497.3 643.8 504.1 639.3C511.0 634.9 505.8 637.3 514.4 633.2C523.0 629.0 514.7 644.1 530.0 627.0C545.3 609.9 544.8 597.5 560.4 581.8C576.0 566.0 565.9 579.7 576.8 579.7C587.8 579.7 582.3 579.7 593.3 581.8C604.2 583.8 603.6 584.4 609.7 585.9C615.9 587.4 611.0 586.2 611.7 586.4M673.9 592.9C674.4 593.3 671.5 591.0 675.5 594.1C679.4 597.3 678.9 596.8 685.8 602.3C692.6 607.8 689.2 604.4 696.0 610.5C702.9 616.7 701.5 614.7 706.3 620.8C711.1 627.0 709.4 624.2 710.4 629.0C711.4 633.8 709.8 632.5 709.4 635.2C708.9 637.9 709.2 636.5 709.1 637.2M667.7 633.1C667.5 632.4 668.1 635.2 667.3 631.1C666.4 627.0 667.3 627.0 665.2 620.8C663.2 614.7 665.9 618.1 661.1 612.6C656.3 607.1 658.4 609.2 650.8 604.4C643.3 599.6 646.7 602.3 638.5 598.2C630.3 594.1 634.4 595.5 626.2 592.1C617.9 588.6 622.1 590.7 613.8 587.9C605.6 585.2 606.2 585.4 601.5 583.8C596.8 582.3 600.2 583.4 599.6 583.2M691.6 616.6C691.7 616.0 691.5 617.4 691.9 614.7C692.4 611.9 693.6 613.3 692.9 608.5C692.3 603.7 693.6 605.8 689.9 600.3C686.1 594.8 687.8 596.8 681.6 592.1C675.5 587.3 678.9 590.0 671.4 585.9C663.8 581.8 667.3 583.8 659.0 579.7C650.8 575.6 654.9 577.0 646.7 573.6C638.5 570.1 639.1 571.0 634.4 569.5C629.6 567.9 633.1 569.0 632.5 568.8"/>
<path class="drk" d="M817.3 530.9C813.9 530.7 812.4 530.9 807.0 530.2C801.6 529.6 805.3 530.2 801.0 529.0C796.7 527.7 799.3 528.0 794.2 526.4C789.0 524.8 791.3 525.1 785.6 524.1C779.9 523.0 781.6 524.2 777.1 523.2C772.5 522.3 775.1 522.9 771.9 521.2C768.8 519.6 771.1 520.0 767.6 518.3C764.2 516.5 766.5 517.2 761.6 516.1C756.8 515.0 759.4 515.5 753.1 515.0C746.8 514.5 749.1 514.8 742.8 514.7C736.5 514.5 738.8 514.3 734.2 514.6C729.7 514.8 732.2 514.6 729.1 515.4C726.0 516.2 727.7 516.5 724.8 517.0C722.0 517.4 723.1 517.3 720.5 516.7C718.0 516.1 719.4 516.9 717.1 515.3C714.8 513.6 716.0 514.1 713.7 511.8C711.4 509.5 714.5 511.1 710.3 508.4C706.0 505.7 706.8 505.0 701.0 503.8C695.1 502.6 700.0 503.9 692.7 504.8C685.4 505.7 688.2 505.4 679.0 506.5C669.9 507.6 674.5 507.4 665.3 508.2C656.2 509.0 659.6 508.1 651.6 508.9C643.7 509.7 648.2 509.1 641.4 510.6C634.5 512.1 637.9 511.3 631.1 513.4C624.2 515.4 627.7 514.4 620.8 516.8C614.0 519.2 617.4 518.3 610.5 520.5C603.7 522.8 607.1 521.8 600.3 523.6C593.4 525.5 596.5 525.5 590.0 526.0C583.5 526.5 586.1 525.4 580.8 525.2C575.4 524.9 576.2 525.3 573.9 525.3M817.3 530.9C812.4 530.6 810.4 531.2 802.7 530.1C795.0 529.0 799.9 529.2 794.2 527.7C788.5 526.2 791.3 526.5 785.6 525.5C779.9 524.5 782.8 525.1 777.1 524.7C771.3 524.2 774.2 524.8 768.5 524.2C762.8 523.7 765.6 523.8 759.9 523.0C754.2 522.1 757.1 522.5 751.4 521.7C745.7 520.8 748.5 521.4 742.8 520.4C737.1 519.4 739.1 519.7 734.2 518.7C729.4 517.7 732.5 518.1 728.3 517.4C724.0 516.7 726.5 516.7 721.4 516.5C716.3 516.4 718.6 516.4 712.8 517.0C707.1 517.5 708.7 517.6 704.3 518.3C699.9 518.9 705.7 518.8 699.6 518.8C693.5 518.9 695.0 518.6 685.9 518.5C676.8 518.4 680.2 518.2 672.2 518.5C664.2 518.8 667.6 518.4 661.9 519.5C656.2 520.7 659.6 520.2 655.1 521.9C650.5 523.6 652.8 522.9 648.2 524.7C643.7 526.4 645.9 525.9 641.4 527.1C636.8 528.2 638.9 528.0 634.5 528.1C630.2 528.2 630.4 527.6 628.4 527.4M817.3 530.9C811.0 530.7 807.6 531.2 798.5 530.2C789.3 529.3 795.6 529.2 789.9 528.1C784.2 527.0 787.0 527.4 781.3 526.8C775.6 526.2 778.5 526.7 772.8 526.4C767.1 526.1 769.9 526.7 764.2 526.0C758.5 525.2 761.4 525.1 755.7 524.2C749.9 523.4 752.8 524.0 747.1 523.4C741.4 522.8 744.2 523.1 738.5 522.5C732.8 522.0 735.7 522.5 730.0 521.7C724.3 520.8 727.1 520.7 721.4 520.0C715.7 519.3 718.6 519.4 712.8 519.5C707.1 519.7 711.0 519.6 704.3 520.4C697.6 521.2 701.2 521.0 692.7 521.9C684.3 522.9 688.2 521.9 679.0 523.3C669.9 524.7 673.3 524.2 665.3 526.0C657.4 527.9 661.9 526.7 655.1 528.8C648.2 530.8 650.5 530.4 644.8 532.2C639.1 534.0 642.5 533.8 637.9 534.2C633.4 534.7 635.7 534.5 631.1 533.6C626.5 532.6 628.8 532.9 624.2 531.5C619.7 530.1 619.7 530.1 617.4 529.5M817.3 530.9C811.0 530.6 807.6 530.9 798.5 529.8C789.3 528.7 795.6 529.0 789.9 527.7C784.2 526.4 787.0 526.8 781.3 526.0C775.6 525.1 778.5 525.8 772.8 525.1C767.1 524.4 769.9 524.8 764.2 523.8C758.5 522.8 761.4 523.1 755.7 522.1C749.9 521.1 752.8 521.7 747.1 520.8C741.4 520.0 744.2 520.3 738.5 519.5C732.8 518.8 735.7 519.1 730.0 518.7C724.3 518.3 727.1 518.4 721.4 518.3C715.7 518.1 718.6 518.0 712.8 518.3C707.1 518.5 709.8 518.6 704.3 519.1C698.7 519.6 703.4 519.4 696.2 519.9C688.9 520.3 691.6 520.1 682.5 520.5C673.3 521.0 676.8 520.5 668.8 521.2C660.8 521.9 664.2 521.3 658.5 522.6C652.8 523.9 656.2 523.4 651.6 525.0C647.1 526.6 649.4 525.9 644.8 527.4C640.2 528.9 642.5 528.4 637.9 529.5C633.4 530.5 635.7 530.3 631.1 530.5C626.5 530.7 628.4 530.4 624.2 530.1C620.1 529.9 620.6 529.9 618.8 529.8M817.3 530.9C812.4 530.8 810.4 531.3 802.7 530.7C795.0 530.0 799.9 530.0 794.2 529.0C788.5 528.0 791.3 528.4 785.6 527.7C779.9 527.0 782.8 527.2 777.1 526.8C771.3 526.4 774.2 526.7 768.5 526.4C762.8 526.1 765.6 526.4 759.9 526.0C754.2 525.5 757.1 525.7 751.4 525.1C745.7 524.5 748.5 524.7 742.8 524.2C737.1 523.8 740.0 524.1 734.2 523.8C728.5 523.5 731.4 523.7 725.7 523.4C720.0 523.1 722.8 523.2 717.1 523.0C711.4 522.7 714.3 522.5 708.6 522.5C702.9 522.5 705.3 522.5 700.0 523.0C694.7 523.4 698.6 523.2 692.7 524.0C686.9 524.8 689.3 524.2 682.5 525.3C675.6 526.5 678.4 526.0 672.2 527.4C666.0 528.8 669.0 528.5 664.0 529.5C658.9 530.4 661.7 529.9 657.1 530.1C652.6 530.4 654.8 529.8 650.3 530.1C645.7 530.5 648.0 530.5 643.4 531.2C638.9 531.8 640.7 531.8 636.6 532.2C632.5 532.5 632.9 532.2 631.1 532.2M817.3 530.9C812.4 530.9 810.4 531.4 802.7 530.9C795.0 530.5 799.9 530.4 794.2 529.6C788.5 528.8 791.3 529.2 785.6 528.5C779.9 527.9 782.8 528.1 777.1 527.7C771.3 527.2 774.2 527.5 768.5 527.2C762.8 527.0 765.6 527.1 759.9 526.8C754.2 526.5 757.1 526.7 751.4 526.4C745.7 526.1 748.5 526.2 742.8 526.0C737.1 525.7 740.0 525.8 734.2 525.5C728.5 525.2 731.4 525.2 725.7 525.1C720.0 525.0 722.8 525.1 717.1 525.1C711.4 525.1 714.3 525.0 708.6 525.1C702.9 525.2 705.3 525.2 700.0 525.5C694.7 525.8 698.6 525.4 692.7 526.0C686.9 526.6 689.3 526.5 682.5 527.4C675.6 528.3 677.9 527.7 672.2 528.8C666.5 529.8 669.9 529.7 665.3 530.5C660.8 531.3 663.1 531.1 658.5 531.2C653.9 531.3 656.2 531.2 651.6 530.8C647.1 530.5 649.4 530.8 644.8 530.1C640.2 529.5 641.6 529.7 637.9 528.8C634.3 527.9 636.6 528.0 633.8 527.4C631.1 526.8 631.1 527.2 629.7 527.1M817.3 530.9C809.6 530.7 807.6 530.9 794.2 530.2C780.8 529.6 788.5 529.7 777.1 529.0C765.6 528.2 771.3 528.5 759.9 528.1C748.5 527.7 754.2 528.0 742.8 527.7C731.4 527.4 737.1 527.2 725.7 527.2C714.3 527.2 717.1 527.4 708.6 527.7C700.0 528.0 705.3 527.7 700.0 528.1C694.7 528.5 699.7 528.1 692.7 528.8C685.8 529.4 687.0 529.3 679.0 530.1C671.1 530.9 675.6 530.5 668.8 531.2C661.9 531.8 664.7 531.2 658.5 532.2C652.3 533.2 654.8 533.1 650.3 534.2C645.7 535.4 648.9 534.9 644.8 535.6C640.7 536.3 642.5 536.3 637.9 536.3C633.4 536.3 635.2 536.3 631.1 535.6C627.0 534.9 629.5 535.2 625.6 534.2C621.7 533.3 621.5 533.3 619.5 532.9M817.3 530.9C809.6 530.8 807.6 531.1 794.2 530.7C780.8 530.2 788.5 530.1 777.1 529.6C765.6 529.0 771.3 529.2 759.9 529.0C748.5 528.8 754.2 529.0 742.8 529.0C731.4 529.0 737.1 528.8 725.7 529.0C714.3 529.1 717.1 529.1 708.6 529.4C700.0 529.7 705.3 529.6 700.0 529.8C694.7 530.1 699.7 529.8 692.7 530.1C685.8 530.5 687.0 530.1 679.0 530.8C671.1 531.5 674.5 531.1 668.8 532.2C663.1 533.3 666.5 533.1 661.9 534.2C657.4 535.4 659.6 534.9 655.1 535.6C650.5 536.3 652.8 535.8 648.2 536.3C643.7 536.8 643.7 536.8 641.4 537.0M817.3 530.9C809.6 531.0 807.6 531.3 794.2 531.1C780.8 530.9 788.5 530.5 777.1 530.2C765.6 530.0 771.3 530.2 759.9 530.2C748.5 530.2 754.2 530.2 742.8 530.2C731.4 530.2 737.1 530.1 725.7 530.2C714.3 530.4 717.1 530.4 708.6 530.7C700.0 531.0 705.3 530.8 700.0 531.1C694.7 531.4 699.7 531.1 692.7 531.5C685.8 531.9 687.0 531.7 679.0 532.2C671.1 532.6 675.6 532.4 668.8 532.9C661.9 533.3 664.2 533.1 658.5 533.6C652.8 534.0 655.8 533.6 651.6 534.2C647.5 534.9 648.0 535.2 646.2 535.6M817.3 530.9C812.4 531.7 810.4 532.0 802.7 533.2C795.0 534.4 799.9 533.7 794.2 534.5C788.5 535.4 791.3 535.0 785.6 535.8C779.9 536.6 782.8 536.2 777.1 536.9C771.3 537.6 774.2 537.2 768.5 537.9C762.8 538.7 765.6 538.4 759.9 539.2C754.2 540.1 757.1 539.8 751.4 540.5C745.7 541.2 748.5 540.8 742.8 541.4C737.1 541.9 740.0 541.5 734.2 542.2C728.5 542.9 731.4 542.7 725.7 543.5C720.0 544.4 722.8 543.9 717.1 544.8C711.4 545.7 714.3 545.4 708.6 546.1C702.9 546.8 694.7 547.8 700.0 546.9C705.3 546.1 721.4 543.6 724.4 543.5C727.4 543.3 719.2 544.1 709.0 546.5C698.7 548.9 702.1 547.9 693.6 550.7C685.0 553.4 689.5 551.8 683.3 554.8C677.1 557.7 679.9 556.1 675.1 559.4C670.3 562.6 672.3 560.8 668.9 564.5C665.5 568.3 666.8 566.6 664.8 570.7C662.7 574.8 663.8 572.7 662.7 576.8C661.7 581.0 662.3 582.3 661.7 583.0C661.1 583.7 661.5 578.3 660.9 579.0C660.3 579.8 660.5 581.1 659.9 585.2C659.2 589.3 659.5 587.3 658.8 591.4C658.2 595.5 658.8 593.4 657.8 597.5C656.8 601.6 657.8 599.6 655.8 603.7C653.7 607.8 654.4 605.8 651.6 609.9C648.9 614.0 650.3 611.9 647.5 616.0C644.8 620.1 644.8 620.1 643.4 622.2M817.3 530.9C812.4 531.8 810.4 532.2 802.7 533.7C795.0 535.1 799.9 534.4 794.2 535.4C788.5 536.4 791.3 535.9 785.6 536.7C779.9 537.4 782.8 536.5 777.1 537.5C771.3 538.5 774.2 538.1 768.5 539.7C762.8 541.2 765.6 540.8 759.9 542.2C754.2 543.7 757.9 542.5 751.4 543.9C744.8 545.4 747.4 544.8 740.2 546.5C733.1 548.2 736.2 547.5 730.0 549.1C723.7 550.6 727.1 550.1 721.4 551.2C715.7 552.4 720.0 551.2 712.8 552.5C705.7 553.8 708.4 550.3 700.0 555.1C691.6 559.8 695.2 561.1 687.6 566.7C680.0 572.3 683.2 568.1 677.3 571.8C671.5 575.6 673.9 573.9 670.1 578.0C666.4 582.1 668.1 579.7 666.0 584.2C664.0 588.6 664.8 586.9 664.0 591.4C663.1 595.8 663.1 593.4 663.5 597.5C663.8 601.6 664.0 599.6 665.0 603.7C666.0 607.8 666.2 605.8 666.5 609.9C666.9 614.0 666.9 612.6 666.0 616.0C665.2 619.5 664.7 618.8 664.0 620.1M817.3 530.9C812.4 531.6 811.9 531.9 802.7 532.8C793.6 533.7 798.5 533.1 789.9 533.7C781.3 534.2 785.6 533.7 777.1 534.5C768.5 535.4 772.8 535.1 764.2 536.2C755.7 537.4 759.9 536.9 751.4 537.9C742.8 538.9 747.1 538.4 738.5 539.2C730.0 540.1 734.2 539.5 725.7 540.5C717.1 541.5 721.4 541.1 712.8 542.2C704.3 543.4 696.2 544.4 700.0 543.9C703.8 543.5 721.4 540.9 724.4 540.9C727.4 540.9 719.2 541.6 709.0 544.0C698.7 546.4 702.8 545.0 693.6 548.1C684.3 551.2 688.1 549.8 681.2 553.2C674.4 556.6 677.5 554.9 673.0 558.4C668.6 561.8 670.6 560.1 667.9 563.5C665.1 566.9 666.2 564.9 664.8 568.6C663.4 572.4 664.5 570.0 663.8 574.8C663.1 579.6 663.4 580.9 662.7 583.0C662.1 585.1 662.2 579.7 661.9 581.1C661.6 582.5 661.6 583.2 661.9 587.3C662.3 591.4 661.9 589.7 662.9 593.4C664.0 597.2 663.6 595.1 665.0 598.6C666.4 602.0 666.0 600.6 667.1 603.7C668.1 606.8 667.7 606.4 668.1 607.8M817.3 530.9C812.4 531.5 811.9 531.9 802.7 532.6C793.6 533.4 798.5 532.8 789.9 533.2C781.3 533.6 785.6 533.1 777.1 533.8C768.5 534.5 772.8 534.3 764.2 535.4C755.7 536.5 759.9 536.1 751.4 537.1C742.8 538.1 747.1 537.5 738.5 538.4C730.0 539.2 734.2 538.8 725.7 539.7C717.1 540.5 721.4 539.9 712.8 540.9C704.3 541.9 696.2 543.4 700.0 542.7C703.8 542.0 721.4 539.1 724.4 538.8C727.4 538.6 719.2 539.7 709.0 541.9C698.7 544.1 702.8 542.8 693.6 545.5C684.3 548.3 688.8 546.9 681.2 550.1C673.7 553.4 676.4 551.8 671.0 555.3C665.5 558.7 667.9 557.0 664.8 560.4C661.7 563.8 663.3 561.8 661.7 565.5C660.2 569.3 661.0 567.6 660.2 571.7C659.3 575.8 659.9 575.1 659.1 577.9C658.4 580.7 658.9 577.6 657.8 580.1C656.7 582.5 657.5 581.4 655.8 585.2C654.0 589.0 654.7 587.3 652.7 591.4C650.6 595.5 652.0 593.4 649.6 597.5C647.2 601.6 648.2 600.3 645.5 603.7C642.7 607.1 642.7 606.4 641.4 607.8M710.0 535.6C704.2 536.5 703.1 536.5 692.7 538.4C682.4 540.2 688.2 539.3 679.0 541.1C669.9 542.9 673.3 542.0 665.3 543.8C657.4 545.7 661.5 544.5 655.1 546.6C648.7 548.6 651.4 547.7 646.2 550.0C640.9 552.3 643.4 550.9 639.3 553.4C635.2 555.9 636.8 554.8 633.8 557.5C630.9 560.3 632.2 558.9 630.4 561.6C628.6 564.4 629.4 563.0 628.4 565.8C627.3 568.5 627.8 567.1 627.3 569.9C626.9 572.6 627.0 570.6 627.0 574.0C627.0 577.4 629.4 580.0 627.3 580.0C625.3 580.0 622.3 573.5 620.8 573.9C619.3 574.3 620.8 576.6 622.9 581.1C624.9 585.5 623.6 583.5 627.0 587.3C630.4 591.0 629.7 590.0 633.2 592.4C636.6 594.8 635.9 593.8 637.3 594.5M710.0 536.6C704.2 537.7 703.1 537.8 692.7 539.7C682.4 541.7 688.2 540.6 679.0 542.5C669.9 544.3 673.3 543.4 665.3 545.2C657.4 547.0 661.2 545.9 655.1 547.9C648.9 550.0 651.6 549.1 646.8 551.4C642.1 553.7 644.3 552.3 640.7 554.8C637.0 557.3 638.6 556.2 635.9 558.9C633.2 561.6 634.3 560.3 632.5 563.0C630.6 565.8 631.6 564.4 630.4 567.1C629.3 569.9 629.6 568.5 629.0 571.2C628.5 574.0 628.9 572.4 628.7 575.3C628.5 578.3 630.3 580.1 628.4 580.0C626.4 579.9 623.8 573.9 622.9 574.9C621.9 576.0 623.7 578.4 625.4 583.2C627.2 587.9 627.8 585.9 628.0 589.3C628.2 592.7 627.3 590.7 626.0 593.4C624.6 596.2 624.6 596.2 623.9 597.5M710.0 537.7C704.2 538.8 703.1 539.0 692.7 541.1C682.4 543.2 687.7 542.0 679.0 543.8C670.4 545.7 674.0 544.7 666.7 546.6C659.4 548.4 663.1 547.3 657.1 549.3C651.2 551.4 653.7 550.5 648.9 552.7C644.1 555.0 646.4 553.7 642.7 556.2C639.1 558.7 640.7 557.5 637.9 560.3C635.2 563.0 636.3 561.6 634.5 564.4C632.7 567.1 633.6 565.8 632.5 568.5C631.3 571.2 631.8 568.8 631.1 572.6C630.4 576.4 632.1 579.6 630.4 580.0C628.7 580.4 626.4 573.5 626.0 573.9C625.5 574.3 626.3 577.0 629.0 581.1C631.8 585.2 630.8 583.8 634.2 586.2C637.6 588.6 636.2 587.9 639.3 588.3C642.4 588.6 642.1 587.6 643.4 587.3M710.0 538.7C704.2 539.8 703.1 540.1 692.7 542.1C682.4 544.2 687.3 542.9 679.0 544.9C670.8 546.8 674.9 546.0 668.1 547.9C661.2 549.9 664.2 548.6 658.5 550.7C652.8 552.7 655.5 551.8 651.0 554.1C646.4 556.4 648.4 555.0 644.8 557.5C641.1 560.0 641.6 560.3 640.0 561.6M710.0 534.6C704.2 535.4 703.1 535.4 692.7 537.0C682.4 538.6 687.0 538.0 679.0 539.4C671.1 540.8 674.5 539.8 668.8 541.1C663.1 542.4 666.5 542.2 661.9 543.2C657.4 544.1 659.6 543.2 655.1 543.8C650.5 544.5 652.1 545.2 648.2 545.2C644.3 545.2 646.8 544.1 643.4 543.8C640.0 543.6 641.6 543.6 637.9 544.5C634.3 545.4 635.7 545.0 632.5 546.6C629.3 548.2 631.1 547.9 628.4 549.3C625.6 550.7 627.0 550.3 624.2 550.7C621.5 551.0 621.5 550.5 620.1 550.3M710.0 533.6C704.2 534.2 703.1 534.2 692.7 535.6C682.4 537.0 687.0 536.3 679.0 537.7C671.1 539.0 675.6 538.6 668.8 539.7C661.9 540.9 664.2 540.9 658.5 541.1C652.8 541.3 656.2 540.4 651.6 540.4C647.1 540.4 649.4 540.6 644.8 541.1C640.2 541.6 642.5 541.1 637.9 541.8C633.4 542.5 635.2 542.2 631.1 543.2C627.0 544.1 628.6 544.3 625.6 544.5C622.6 544.7 623.3 544.1 622.2 543.8M630.3 620.8C629.2 618.8 627.9 620.1 627.2 614.7C626.5 609.2 626.5 610.5 628.2 604.4C629.9 598.2 628.2 603.0 632.3 596.2C636.4 589.3 635.1 591.4 640.5 583.8C646.0 576.3 644.0 580.4 648.8 573.6C653.6 566.7 652.9 566.7 654.9 563.3M550.1 583.8C552.9 582.5 552.9 582.1 558.4 579.7C563.8 577.3 563.8 577.7 566.6 576.6M581.0 546.8C583.7 547.9 583.7 547.9 589.2 549.9C594.7 552.0 591.9 551.3 597.4 553.0C602.9 554.7 600.1 552.3 605.6 555.1C611.1 557.8 611.1 559.2 613.8 561.2M663.2 583.8C663.5 590.7 664.2 590.7 664.2 604.4C664.2 618.1 662.8 614.0 663.2 624.9C663.5 635.9 663.2 630.4 665.2 637.3C667.3 644.1 666.6 641.0 669.3 645.5C672.1 649.9 671.4 649.6 673.4 650.6C675.5 651.6 675.8 651.0 675.5 648.6C675.1 646.2 675.1 647.2 672.4 643.4C669.7 639.7 669.0 639.3 667.3 637.3M817.3 530.9C813.9 531.8 813.3 531.9 807.0 533.5C800.7 535.1 805.6 534.5 798.5 535.8C791.3 537.1 792.8 536.5 785.6 537.5C778.5 538.5 782.3 536.4 777.1 538.8C771.8 541.2 775.8 541.3 770.0 544.7C764.2 548.2 765.3 546.8 759.6 549.2C753.8 551.6 757.3 549.9 752.7 551.9C748.2 554.0 750.5 553.5 745.9 555.3C741.3 557.2 743.6 555.8 739.0 557.4C734.5 559.0 736.8 557.9 732.2 560.1C727.6 562.4 729.9 561.5 725.3 564.2C720.8 567.0 721.7 566.1 718.5 568.4C715.3 570.6 716.9 569.0 715.8 571.1C714.6 573.2 715.1 572.7 715.1 574.5C715.1 576.3 716.9 575.4 715.8 576.6C714.6 577.7 715.3 576.1 711.6 577.9C708.0 579.8 709.4 579.1 704.8 582.1C700.2 585.0 702.5 583.4 697.9 586.8C693.4 590.3 695.2 588.4 691.1 592.3C687.0 596.2 688.8 594.6 685.6 598.5C682.4 602.4 683.8 600.1 681.5 604.0C679.2 607.8 679.6 606.7 678.8 610.0C677.9 613.3 679.3 609.9 678.9 614.0C678.4 618.0 678.0 617.4 677.3 622.2C676.6 627.0 676.5 624.9 676.8 628.4C677.2 631.8 677.0 629.4 678.4 632.5C679.7 635.5 679.4 634.2 680.9 637.6C682.5 641.0 681.6 640.2 683.0 642.7C684.3 645.3 682.5 644.6 685.0 645.3C687.6 646.0 686.4 645.7 690.7 644.8C695.0 643.9 693.4 644.3 697.9 642.7C702.3 641.2 700.8 641.7 704.0 640.2C707.3 638.6 706.4 638.8 707.6 638.1M817.3 530.9C813.9 531.7 813.3 531.8 807.0 533.2C800.7 534.7 805.6 534.1 798.5 535.4C791.3 536.6 792.8 536.1 785.6 536.9C778.5 537.8 782.3 535.9 777.1 537.9C771.8 540.0 775.8 539.7 770.0 543.0C764.2 546.3 765.3 545.3 759.6 547.8C753.8 550.3 757.3 548.5 752.7 550.5C748.2 552.6 751.6 552.1 745.9 554.0C740.2 555.8 741.3 554.2 735.6 556.0C729.9 557.9 733.3 556.9 728.8 559.5C724.2 562.0 726.5 560.4 721.9 563.6C717.4 566.8 719.6 565.6 715.1 569.0C710.5 572.5 712.8 570.4 708.2 573.8C703.7 577.3 705.9 575.7 701.4 579.3C696.8 583.0 698.9 580.9 694.5 584.8C690.2 588.7 692.2 586.8 688.4 591.0C684.5 595.1 685.8 593.2 682.9 597.1C679.9 601.0 681.5 598.3 679.5 602.6C677.4 606.9 678.1 604.8 676.7 610.0C675.3 615.2 676.3 612.6 675.3 618.1C674.3 623.5 674.8 621.5 673.7 626.3C672.7 631.1 673.0 628.4 672.2 632.5C671.3 636.6 671.2 635.2 671.2 638.6C671.2 642.1 671.3 640.3 672.2 642.7C673.0 645.1 673.2 644.8 673.7 645.8M817.3 530.9C813.9 531.6 813.3 531.6 807.0 532.8C800.7 534.1 805.6 533.6 798.5 534.7C791.3 535.8 792.8 535.4 785.6 536.2C778.5 537.1 782.3 535.5 777.1 537.3C771.8 539.1 775.8 538.8 770.0 541.6C764.2 544.5 766.5 542.8 759.6 545.8C752.7 548.7 755.0 547.9 749.3 550.5C743.6 553.2 748.2 551.9 742.5 553.6C736.8 555.3 737.9 554.4 732.2 555.7C726.5 556.9 729.9 555.9 725.3 557.4C720.8 558.9 723.1 557.9 718.5 560.1C713.9 562.4 716.2 561.1 711.6 564.2C707.1 567.4 709.4 565.8 704.8 569.7C700.2 573.6 702.5 571.8 697.9 575.9C693.4 580.0 695.2 577.9 691.1 582.1C687.0 586.2 689.0 584.1 685.6 588.2C682.2 592.3 683.6 590.5 680.8 594.4C678.1 598.3 679.5 596.2 677.4 599.9C675.3 603.5 676.3 602.0 674.7 605.3C673.1 608.7 673.8 605.8 672.6 610.0C671.4 614.2 672.3 612.6 671.2 618.1C670.0 623.5 670.5 621.5 669.1 626.3C667.7 631.1 668.1 628.4 667.1 632.5C666.0 636.6 666.5 635.2 666.0 638.6C665.5 642.1 665.3 640.0 665.5 642.7C665.7 645.5 665.3 644.5 666.5 646.8C667.7 649.2 667.2 648.6 669.1 649.9C671.0 651.3 670.3 650.8 672.2 651.0C674.1 651.1 674.2 651.8 674.8 650.4C675.3 649.1 674.9 649.1 673.7 646.8C672.5 644.6 673.0 646.2 671.2 643.8C669.3 641.4 669.1 641.0 668.1 639.7M817.3 530.9C813.9 531.5 813.3 531.5 807.0 532.6C800.7 533.8 805.6 533.4 798.5 534.3C791.3 535.3 792.8 534.8 785.6 535.5C778.5 536.3 782.3 535.1 777.1 536.7C771.8 538.2 778.1 537.6 770.0 540.3C761.9 543.0 763.1 542.9 752.7 544.7C742.4 546.6 748.2 544.7 739.0 545.8C729.9 546.8 734.5 546.0 725.3 547.8C716.2 549.6 719.6 548.7 711.6 551.2C703.7 553.7 708.2 552.1 701.4 555.3C694.5 558.5 697.3 557.4 691.1 560.8C684.9 564.2 687.4 562.2 682.9 565.6C678.3 569.0 680.8 567.0 677.4 571.1C674.0 575.2 675.3 573.4 672.6 577.9C669.9 582.5 671.0 580.2 669.2 584.8C667.4 589.4 668.0 587.1 667.1 591.6C666.2 596.2 666.4 593.9 666.4 598.5C666.4 603.1 667.1 600.9 667.1 605.3C667.2 609.8 666.9 607.7 666.5 611.9C666.2 616.2 666.5 614.7 666.0 618.1C665.5 621.5 666.4 619.8 665.0 622.2C663.6 624.6 664.3 623.6 661.9 625.3C659.5 627.0 659.2 626.6 657.8 627.3M817.3 530.9C813.9 531.4 813.3 531.4 807.0 532.5C800.7 533.5 805.6 533.1 798.5 534.0C791.3 534.9 792.8 534.5 785.6 535.2C778.5 535.9 782.3 534.8 777.1 536.2C771.8 537.7 778.1 537.0 770.0 539.6C761.9 542.2 763.1 542.3 752.7 544.0C742.4 545.8 748.2 544.0 739.0 544.9C729.9 545.8 734.5 545.0 725.3 546.8C716.2 548.5 719.6 547.7 711.6 550.2C703.7 552.7 708.2 551.2 701.4 554.3C694.5 557.4 697.3 556.1 691.1 559.5C684.9 562.8 687.4 560.8 682.9 564.2C678.3 567.7 680.6 565.6 677.4 569.7C674.2 573.8 675.6 572.0 673.3 576.6C671.0 581.1 672.1 578.9 670.5 583.4C668.9 588.0 669.5 585.7 668.5 590.3C667.5 594.8 667.9 592.6 667.5 597.1C667.0 601.7 666.9 599.7 667.1 604.0C667.3 608.2 666.7 605.8 668.1 609.9C669.4 613.9 668.4 612.3 671.2 616.0C673.9 619.8 672.5 618.4 676.3 621.2C680.1 623.9 678.7 622.9 682.5 624.2C686.2 625.6 685.5 626.0 687.6 625.3C689.7 624.6 688.3 623.2 688.6 622.2M770.0 538.9C764.2 540.4 763.1 541.5 752.7 543.4C742.4 545.2 748.2 543.6 739.0 544.4C729.9 545.2 734.5 544.4 725.3 545.8C716.2 547.1 718.5 546.9 711.6 548.5C704.8 550.1 709.4 549.2 704.8 550.5C700.2 551.9 702.5 550.8 697.9 552.6C693.4 554.4 695.7 553.5 691.1 556.0C686.5 558.5 688.8 557.4 684.2 560.1C679.7 562.9 681.1 561.3 677.4 564.2C673.7 567.2 675.6 565.6 673.3 569.0C671.0 572.5 672.1 570.4 670.5 574.5C668.9 578.6 669.6 576.8 668.5 581.4C667.4 585.9 667.9 583.7 667.1 588.2C666.3 592.8 666.6 590.5 666.1 595.1C665.6 599.6 666.5 598.4 665.8 601.9C665.0 605.5 665.3 602.4 664.0 605.8C662.7 609.1 662.9 607.8 661.9 611.9C660.9 616.0 660.9 614.7 660.9 618.1C660.9 621.5 660.9 621.5 661.9 622.2C662.9 622.9 663.3 620.8 664.0 620.1M770.0 538.2C764.2 539.6 763.1 540.6 752.7 542.3C742.4 544.0 748.2 542.6 739.0 543.4C729.9 544.2 734.5 543.4 725.3 544.7C716.2 546.1 719.4 545.8 711.6 547.5C703.9 549.2 707.8 548.4 702.1 549.9C696.3 551.3 699.3 550.1 694.5 551.9C689.7 553.7 692.2 553.1 687.7 555.3C683.1 557.6 685.4 556.5 680.8 558.8C676.3 561.1 677.9 559.5 674.0 562.2C670.1 564.9 671.9 563.6 669.2 567.0C666.4 570.4 667.6 568.8 665.8 572.5C663.9 576.1 664.8 574.3 663.7 577.9C662.6 581.6 663.0 579.8 662.3 583.4C661.6 587.1 661.8 584.2 661.6 588.9C661.5 593.6 662.2 592.6 661.9 597.5C661.7 602.5 661.6 599.6 660.9 603.7C660.2 607.8 661.6 606.4 659.9 609.9C658.2 613.3 658.5 610.5 655.8 614.0C653.0 617.4 654.4 616.0 651.6 620.1C648.9 624.2 650.3 622.2 647.5 626.3C644.8 630.4 644.8 630.4 643.4 632.5M770.0 541.0C764.2 542.6 763.1 543.7 752.7 545.8C742.4 547.8 748.2 545.9 739.0 547.1C729.9 548.4 734.5 547.5 725.3 549.5C716.2 551.6 719.6 550.7 711.6 553.3C703.7 555.9 708.2 554.2 701.4 557.4C694.5 560.6 697.3 559.2 691.1 562.9C684.9 566.5 687.4 564.7 682.9 568.4C678.3 572.0 680.4 569.7 677.4 573.8C674.4 577.9 675.8 576.1 674.0 580.7C672.1 585.3 673.1 583.0 671.9 587.5C670.8 592.1 671.2 589.8 670.5 594.4C669.9 598.9 670.0 596.0 669.9 601.2C669.7 606.4 669.4 606.4 670.2 610.0C671.0 613.6 671.2 609.2 672.2 611.9C673.2 614.6 672.2 614.0 673.2 618.1C674.2 622.2 673.6 620.8 675.3 624.2C677.0 627.7 676.0 626.3 678.4 628.4C680.8 630.4 681.1 629.7 682.5 630.4M770.0 543.7C766.5 545.3 765.3 545.9 759.6 548.4C753.8 550.8 757.3 549.0 752.7 551.1C748.2 553.2 751.1 552.6 745.9 554.5C740.6 556.4 742.2 555.0 737.0 556.7C731.7 558.5 734.7 557.4 730.1 559.8C725.6 562.2 727.9 560.9 723.3 563.9C718.7 566.9 721.0 565.4 716.4 568.7C711.9 572.0 714.2 570.3 709.6 573.8C705.0 577.4 707.3 575.5 702.7 579.3C698.2 583.1 700.2 581.1 695.9 585.1C691.6 589.1 693.6 587.2 689.7 591.3C685.8 595.4 687.3 593.5 684.2 597.5C681.2 601.5 682.6 599.1 680.5 603.3C678.3 607.5 678.8 605.8 677.7 610.0C676.7 614.2 677.8 612.0 677.3 616.0C676.8 620.1 676.8 618.4 676.3 622.2C675.8 626.0 675.4 624.6 675.8 627.3C676.1 630.1 676.8 629.4 677.3 630.4M656.8 561.5C658.7 561.1 658.7 561.5 662.3 560.1C666.0 558.8 664.2 559.0 667.8 557.4C671.5 555.8 669.6 556.5 673.3 555.3C676.9 554.2 675.1 555.1 678.8 554.0C682.4 552.8 680.1 553.3 684.2 551.9C688.4 550.5 686.5 551.0 691.1 549.9C695.7 548.7 695.7 548.9 697.9 548.5M655.5 562.9C657.1 563.3 656.8 564.5 660.3 564.2C663.7 564.0 662.3 563.8 665.8 562.2C669.2 560.6 667.1 561.1 670.5 559.5C674.0 557.9 672.4 558.8 676.0 557.4C679.7 556.0 679.7 556.0 681.5 555.3M661.9 618.1C665.3 617.6 665.3 617.4 672.2 616.5C679.0 615.7 677.7 616.4 682.5 615.5C687.3 614.7 684.3 613.6 686.6 614.0C688.8 614.3 688.3 615.7 689.1 616.5M610.5 611.9C614.0 613.6 615.0 615.2 620.8 617.1C626.6 618.9 625.1 616.2 628.0 617.6C630.9 618.9 629.0 620.0 629.6 621.2M590.0 633.0C593.4 635.5 591.7 636.4 600.3 640.7C608.8 645.0 605.4 644.3 615.7 645.8C626.0 647.4 624.9 645.3 631.1 645.3C637.3 645.3 633.5 646.7 634.2 645.8C634.9 645.0 633.8 645.5 633.2 642.7C632.5 640.0 631.8 642.7 632.1 637.6C632.5 632.5 632.1 633.2 634.2 627.3C636.2 621.5 635.2 625.3 638.3 620.1C641.4 615.0 639.7 616.7 643.4 611.9C647.2 607.1 645.5 610.5 649.6 605.8C653.7 601.0 653.7 600.3 655.8 597.5M626.0 615.0C626.6 613.3 625.6 613.6 628.0 609.9C630.4 606.1 629.4 607.8 633.2 603.7C636.9 599.6 635.2 601.6 639.3 597.5C643.4 593.4 642.1 595.5 645.5 591.4C648.9 587.3 648.2 587.3 649.6 585.2M643.4 610.9C643.1 609.2 643.4 609.5 642.4 605.8C641.4 602.0 641.7 603.7 640.3 599.6C639.0 595.5 639.3 597.2 638.3 593.4C637.3 589.7 637.6 590.0 637.3 588.3"/>
<path class="coast" style="fill:#fff" d="M635.2 562.7L636.6 560.3L639.3 558.9L642.7 559.0L645.5 560.3L647.5 562.7L648.6 565.8L648.2 569.2L646.2 570.5L642.7 570.4L639.3 568.8L636.9 566.8L635.5 564.7Z"/>
<path class="coast" style="fill:#fff" d="M682.1 543.8L683.8 542.1L685.5 540.4L687.3 539.4L689.0 541.1L690.1 543.8L689.3 546.6L687.3 549.0L684.5 550.5L681.4 549.7L681.1 547.6L682.1 545.5Z"/>
<path stroke="#f05cf0" stroke-width="4.5" fill="none" stroke-linejoin="round" stroke-linecap="square" d="M665.4 594.0C664.4 593.4 664.7 593.5 662.3 592.0C659.9 590.5 661.0 591.1 658.2 589.6C655.5 588.1 656.8 588.8 654.1 587.5C651.4 586.3 649.1 585.2 650.0 585.8C650.9 586.4 656.2 588.8 656.8 589.3C657.3 589.8 656.1 588.8 651.6 587.3C647.2 585.7 648.9 586.4 643.4 584.7C637.9 583.0 640.7 584.0 635.2 582.1C629.7 580.2 632.5 581.1 627.0 579.0C621.5 577.0 624.2 577.7 618.8 576.0C613.3 574.2 616.0 574.9 610.5 573.9C605.1 572.9 607.8 573.3 602.3 572.9C596.8 572.5 600.5 572.8 594.1 572.7C587.7 572.6 590.1 571.9 583.0 572.5C575.9 573.2 579.6 572.2 572.7 574.6C565.9 577.0 569.3 576.0 562.5 579.7C555.6 583.5 558.8 582.4 552.2 585.9C545.6 589.4 548.5 588.2 542.6 590.3C536.7 592.5 540.5 591.0 534.4 592.4C528.2 593.8 531.0 593.1 524.1 594.5C517.3 595.8 519.7 595.4 513.8 596.5C508.0 597.6 510.8 597.1 506.6 597.7C502.5 598.4 504.9 597.3 501.5 598.6C498.1 599.9 499.8 599.1 496.4 601.6C492.9 604.2 494.7 602.8 491.2 606.3C487.8 609.7 489.2 608.2 486.1 611.9C483.0 615.7 484.7 613.6 482.0 617.6C479.2 621.5 480.6 620.1 477.9 623.7C475.1 627.3 476.8 625.3 473.8 628.4C470.7 631.4 471.9 630.1 468.6 633.0C465.4 635.9 465.5 635.7 464.0 637.1"/>
<path stroke="#8b008b" stroke-width="4.5" fill="none" stroke-linejoin="round" stroke-linecap="square" d="M816.3 530.6C814.6 531.2 815.2 531.3 811.3 532.4C807.4 533.5 808.7 533.7 804.5 533.8C800.2 534.0 803.3 533.5 798.5 532.8C793.6 532.1 795.6 532.4 789.9 531.8C784.2 531.2 787.0 530.9 781.3 530.9C775.6 531.0 776.6 531.3 772.8 532.0C769.0 532.6 773.3 532.0 770.0 532.7C766.7 533.5 767.6 533.1 763.0 534.1C758.4 535.1 760.7 534.9 756.2 535.8C751.6 536.7 753.9 536.6 749.3 536.8C744.7 537.1 747.0 536.7 742.5 536.5C737.9 536.3 740.2 536.2 735.6 536.2C731.1 536.2 733.3 535.6 728.8 536.5C724.2 537.4 726.5 537.2 721.9 538.9C717.4 540.6 719.6 540.3 715.1 541.6C710.5 543.0 712.8 542.2 708.2 543.0C703.7 543.8 705.9 542.9 701.4 544.0C696.8 545.2 698.9 544.5 694.5 546.4C690.2 548.4 692.2 547.8 688.4 549.9C684.5 551.9 686.5 551.1 682.9 552.6C679.2 554.1 681.1 553.2 677.4 554.3C673.7 555.5 675.1 554.5 671.9 556.0C668.7 557.5 670.3 556.7 667.8 558.8C665.3 560.8 666.2 559.7 664.4 562.2C662.6 564.7 663.4 563.3 662.3 566.3C661.3 569.3 662.0 567.9 661.3 571.1C660.6 574.3 661.1 572.7 660.3 575.9C659.5 579.1 659.9 577.5 658.9 580.7C657.9 583.9 658.3 582.5 657.2 585.5C656.1 588.4 656.3 587.1 655.5 589.6C654.7 592.1 654.6 591.0 654.8 593.0C655.0 595.1 654.8 594.3 656.2 595.8C657.5 597.2 656.8 597.0 658.9 597.5C661.0 597.9 660.4 597.7 662.3 597.1C664.3 596.6 663.7 596.9 664.7 595.8C665.8 594.6 665.2 594.4 665.4 593.7"/>
<path stroke="#000" stroke-width="4.5" fill="none" stroke-linejoin="round" stroke-linecap="square" d="M815.8 531.1C814.3 531.3 815.1 531.3 811.3 531.8C807.5 532.3 808.7 532.4 804.5 532.6C800.2 532.8 803.3 533.0 798.5 532.4C793.6 531.8 795.6 531.7 789.9 530.9C784.2 530.2 787.0 530.5 781.3 530.1C775.6 529.6 778.2 529.6 772.8 529.6C767.4 529.6 769.3 529.6 765.1 530.1C760.8 530.6 763.9 530.2 759.9 531.1C755.9 532.0 758.2 531.9 753.1 532.6C747.9 533.4 750.2 533.2 744.5 533.2C738.8 533.3 741.7 533.2 736.0 532.8C730.3 532.4 733.7 532.3 727.4 532.1C721.1 532.0 723.4 532.0 717.1 532.4C710.8 532.8 714.3 532.8 708.6 533.2C702.9 533.7 705.0 534.0 700.0 533.8C695.0 533.7 699.8 533.3 693.6 532.9C687.3 532.5 688.8 532.7 681.2 532.7C673.7 532.6 677.1 532.3 671.0 532.7C664.8 533.0 667.9 532.7 662.7 533.7C657.6 534.7 659.7 534.2 655.5 535.8C651.4 537.3 653.0 536.1 650.4 538.3C647.8 540.5 649.0 540.0 647.8 542.4C646.6 544.8 648.7 544.2 646.8 545.5C644.9 546.8 645.8 545.7 642.2 546.2C638.6 546.7 639.8 546.1 636.0 547.1C632.3 548.0 634.0 547.4 630.9 549.1C627.8 550.8 629.2 550.1 626.8 552.2C624.4 554.2 625.0 552.9 623.7 555.3C622.4 557.6 623.2 557.9 623.0 559.2C622.8 558.2 623.1 558.6 622.5 556.3C621.8 554.0 622.3 555.3 621.1 552.2C620.0 549.1 620.4 550.5 619.1 547.1C617.7 543.6 618.6 545.3 617.0 541.9C615.5 538.5 614.8 537.7 614.5 536.8C614.1 535.8 616.5 539.6 615.9 539.0C615.2 538.5 614.7 537.8 612.4 535.2C610.1 532.6 610.9 534.0 609.0 531.3C607.2 528.6 608.2 529.9 606.9 527.1C605.6 524.2 606.3 525.6 605.2 522.8C604.0 519.9 605.0 521.5 603.4 518.5C601.9 515.5 602.9 516.6 600.4 513.8C598.0 510.9 599.3 512.4 596.2 509.9C593.0 507.5 594.5 508.5 591.0 506.5C587.6 504.5 589.3 505.2 585.9 503.9C582.5 502.7 584.7 503.4 580.8 502.7C576.8 501.9 578.5 502.2 573.9 501.8C569.3 501.4 571.6 501.8 567.1 501.4C562.5 500.9 564.8 501.3 560.2 500.5C555.6 499.7 557.4 500.0 553.4 499.0C549.4 498.0 551.4 498.7 548.2 497.5C545.1 496.3 546.5 497.4 543.9 495.4C541.4 493.4 542.8 494.4 540.5 491.5C538.2 488.7 539.4 489.7 537.1 486.8C534.8 484.0 536.2 485.4 533.7 483.0C531.1 480.5 532.5 481.7 529.4 479.5C526.2 477.4 527.7 478.7 524.2 476.5C520.8 474.4 522.2 475.7 519.1 473.1C516.0 470.5 517.2 471.2 514.8 468.8C512.5 466.5 513.0 467.0 512.1 466.1"/>
<text class="tcm" font-size="25.29" x="1567.76" y="276.78">↺</text>
<text class="tcm" font-size="25.29" x="1538.76" y="283.98">↺</text>
<text class="tcm" font-size="25.29" x="1490.86" y="292.78">↺</text>
<text class="tcm" font-size="25.29" x="1477.46" y="299.08">↺</text>
<text class="tcm" font-size="25.29" x="1422.96" y="323.88">↺</text>
<text class="tcm" font-size="25.29" x="1406.86" y="335.58">↺</text>
<text class="tcm" font-size="25.29" x="1413.86" y="338.68">↺</text>
<text class="tcm" font-size="25.29" x="1439.96" y="336.78">↺</text>
<text class="tcm" font-size="25.29" x="1459.86" y="339.08">↺</text>
</g>
<line class="grid" x1="300.135" y1="89.5" x2="300.135" y2="1052.5"/>
<line class="grid" x1="740.405" y1="89.5" x2="740.405" y2="1052.5"/>
<line class="grid" x1="1180.675" y1="89.5" x2="1180.675" y2="1052.5"/>
<line class="grid" x1="1620.6" y1="89.5" x2="1620.6" y2="1052.5"/>
<line class="grid" x1="80.5" y1="310.3112031012272" x2="1621.5" y2="310.3112031012272"/>
<line class="grid" x1="80.5" y1="538.5433093447728" x2="1621.5" y2="538.5433093447728"/>
<line class="grid" x1="80.5" y1="781.8792065511658" x2="1621.5" y2="781.8792065511658"/>
<line class="grid" x1="80.5" y1="1051.5" x2="1621.5" y2="1051.5"/>
<path d="M81 1047.2h5.6l0.6 1.2v3.6h-6.2z" fill="#000"/>
<rect x="80.5" y="89.5" width="1541.0" height="963.0" stroke="#000" stroke-width="1.15" fill="none"/>
<text class="ll" x="63.7" y="315.9" text-anchor="end">10°S</text>
<text class="ll" x="63.7" y="544.1" text-anchor="end">20°S</text>
<text class="ll" x="63.7" y="787.5" text-anchor="end">30°S</text>
<text class="ll" x="300.2" y="1083" text-anchor="middle">40°E</text>
<text class="ll" x="740.1" y="1083" text-anchor="middle">60°E</text>
<text class="ll" x="1180.6" y="1083" text-anchor="middle">80°E</text>
<text class="ll" x="1619.4" y="1083" text-anchor="middle">100°E</text>
</g>
<g id="legend">
<rect x="1274.5" y="874.3" width="339.0" height="169.2" rx="3.3" ry="3.3" fill="#fff" stroke="#000" stroke-width="1.2"/>
<line x1="1281" y1="887.2" x2="1314.0" y2="887.2" stroke="#696969" stroke-width="1.39"/>
<text class="lg" x="1327" y="892.5">No Interception</text>
<line x1="1281" y1="910.4" x2="1314.0" y2="910.4" stroke="#ff4500" stroke-width="1.39"/>
<text class="lg" x="1327" y="915.9">Interception from Named cyclone</text>
<line x1="1281" y1="933.6" x2="1314.0" y2="933.6" stroke="#808000" stroke-width="1.39"/>
<text class="lg" x="1327" y="939.5">Interception from Trochoid</text>
<line x1="1281" y1="957.0" x2="1314.0" y2="957.0" stroke="#008000" stroke-width="1.39"/>
<text class="lg" x="1327" y="962.7">Interception from both</text>
<line x1="1281" y1="980.1" x2="1314.0" y2="980.1" stroke="#8b008b" stroke-width="3.9" stroke-linecap="square"/>
<text class="lg" x="1327" y="986.5">HRES</text>
<line x1="1281" y1="1003.3" x2="1314.0" y2="1003.3" stroke="#000" stroke-width="3.9" stroke-linecap="square"/>
<text class="lg" x="1327" y="1010.2">Analysis | 176h duration</text>
<text class="lg" x="1327" y="1034.3">TC obs. for analysis duration</text>
<text class="tcm" font-size="16.1" x="1291.24" y="1034.77">↺</text>
</g>
<g id="cbar">
<rect x="1665.6" y="909.57" width="20.0" height="29.43" fill="#e2edf8" shape-rendering="crispEdges"/>
<rect x="1665.6" y="880.73" width="20.0" height="29.43" fill="#dbe9f6" shape-rendering="crispEdges"/>
<rect x="1665.6" y="851.90" width="20.0" height="29.43" fill="#d4e4f4" shape-rendering="crispEdges"/>
<rect x="1665.6" y="823.06" width="20.0" height="29.43" fill="#cde0f1" shape-rendering="crispEdges"/>
<rect x="1665.6" y="794.23" width="20.0" height="29.43" fill="#c7dbef" shape-rendering="crispEdges"/>
<rect x="1665.6" y="765.39" width="20.0" height="29.43" fill="#bcd7eb" shape-rendering="crispEdges"/>
<rect x="1665.6" y="736.56" width="20.0" height="29.43" fill="#b2d2e8" shape-rendering="crispEdges"/>
<rect x="1665.6" y="707.72" width="20.0" height="29.43" fill="#a6cee4" shape-rendering="crispEdges"/>
<rect x="1665.6" y="678.89" width="20.0" height="29.43" fill="#9ac8e0" shape-rendering="crispEdges"/>
<rect x="1665.6" y="650.05" width="20.0" height="29.43" fill="#8cc0dd" shape-rendering="crispEdges"/>
<rect x="1665.6" y="621.22" width="20.0" height="29.43" fill="#7db8da" shape-rendering="crispEdges"/>
<rect x="1665.6" y="592.38" width="20.0" height="29.43" fill="#6fb0d7" shape-rendering="crispEdges"/>
<rect x="1665.6" y="563.55" width="20.0" height="29.43" fill="#63a8d3" shape-rendering="crispEdges"/>
<rect x="1665.6" y="534.72" width="20.0" height="29.43" fill="#57a0ce" shape-rendering="crispEdges"/>
<rect x="1665.6" y="505.88" width="20.0" height="29.43" fill="#4d99ca" shape-rendering="crispEdges"/>
<rect x="1665.6" y="477.05" width="20.0" height="29.43" fill="#4191c6" shape-rendering="crispEdges"/>
<rect x="1665.6" y="448.21" width="20.0" height="29.43" fill="#3888c1" shape-rendering="crispEdges"/>
<rect x="1665.6" y="419.38" width="20.0" height="29.43" fill="#2f7fbc" shape-rendering="crispEdges"/>
<rect x="1665.6" y="390.54" width="20.0" height="29.43" fill="#2575b7" shape-rendering="crispEdges"/>
<rect x="1665.6" y="361.71" width="20.0" height="29.43" fill="#1d6cb1" shape-rendering="crispEdges"/>
<rect x="1665.6" y="332.87" width="20.0" height="29.43" fill="#1663aa" shape-rendering="crispEdges"/>
<rect x="1665.6" y="304.04" width="20.0" height="29.43" fill="#105ba4" shape-rendering="crispEdges"/>
<rect x="1665.6" y="275.20" width="20.0" height="29.43" fill="#09529d" shape-rendering="crispEdges"/>
<rect x="1665.6" y="246.37" width="20.0" height="29.43" fill="#084990" shape-rendering="crispEdges"/>
<rect x="1665.6" y="217.53" width="20.0" height="29.43" fill="#084082" shape-rendering="crispEdges"/>
<rect x="1665.6" y="189.70" width="20.0" height="29.43" fill="#083674" shape-rendering="crispEdges"/>
<rect x="1665.6" y="189.7" width="20.0" height="749.7" fill="none" stroke="#000" stroke-width="1.1"/>
<text class="ct" x="1695.3" y="944.70">0</text>
<text class="ct" x="1695.3" y="800.53">10</text>
<text class="ct" x="1695.3" y="656.35">20</text>
<text class="ct" x="1695.3" y="512.18">30</text>
<text class="ct" x="1695.3" y="368.01">40</text>
<text class="ct" x="1695.3" y="223.83">50</text>
<path d="M1685.6 939.40h5M1685.6 795.23h5M1685.6 651.05h5M1685.6 506.88h5M1685.6 362.71h5M1685.6 218.53h5" stroke="#000" stroke-width="1.1" fill="none"/>
<text class="b" font-size="19.444" transform="translate(1737.2 932.7) rotate(-90)">Named cyclones forecast - Number of EPS within 120km</text>
</g>
<text class="h" x="865.7" y="1120.5" text-anchor="middle">Percentage of flying ballons within a TC as a function of flight time</text>
<rect x="25.5" y="1137.5" width="1640.0" height="41.0" fill="#9e0142" stroke="#000" stroke-width="1.1"/>
<path d="M25.50 1178.5v5.4M66.50 1178.5v5.4M107.50 1178.5v5.4M148.50 1178.5v5.4M189.50 1178.5v5.4M230.50 1178.5v5.4M271.50 1178.5v5.4M312.50 1178.5v5.4M353.50 1178.5v5.4M394.50 1178.5v5.4M435.50 1178.5v5.4M476.50 1178.5v5.4M517.50 1178.5v5.4M558.50 1178.5v5.4M599.50 1178.5v5.4M640.50 1178.5v5.4M681.50 1178.5v5.4M722.50 1178.5v5.4M763.50 1178.5v5.4M804.50 1178.5v5.4M845.50 1178.5v5.4M886.50 1178.5v5.4M927.50 1178.5v5.4M968.50 1178.5v5.4M1009.50 1178.5v5.4M1050.50 1178.5v5.4M1091.50 1178.5v5.4M1132.50 1178.5v5.4M1173.50 1178.5v5.4M1214.50 1178.5v5.4M1255.50 1178.5v5.4M1296.50 1178.5v5.4M1337.50 1178.5v5.4M1378.50 1178.5v5.4M1419.50 1178.5v5.4M1460.50 1178.5v5.4M1501.50 1178.5v5.4M1542.50 1178.5v5.4M1583.50 1178.5v5.4M1624.50 1178.5v5.4M1665.50 1178.5v5.4M25.5 1158.5h-5.2" stroke="#000" stroke-width="1.1" fill="none"/>
<text class="h" x="25.9" y="1200.2" text-anchor="middle">0h</text>
<text class="h" x="189.9" y="1200.2" text-anchor="middle">12h</text>
<text class="h" x="353.9" y="1200.2" text-anchor="middle">24h</text>
<text class="h" x="517.9" y="1200.2" text-anchor="middle">36h</text>
<text class="h" x="681.9" y="1200.2" text-anchor="middle">48h</text>
<text class="h" x="845.9" y="1200.2" text-anchor="middle">60h</text>
<text class="h" x="1009.9" y="1200.2" text-anchor="middle">72h</text>
<text class="h" x="1173.9" y="1200.2" text-anchor="middle">84h</text>
<text class="h" x="1337.9" y="1200.2" text-anchor="middle">96h</text>
<text class="h" x="1501.9" y="1200.2" text-anchor="middle">108h</text>
<text class="h" x="1665.9" y="1200.2" text-anchor="middle">120h</text>
</svg></body></html>
